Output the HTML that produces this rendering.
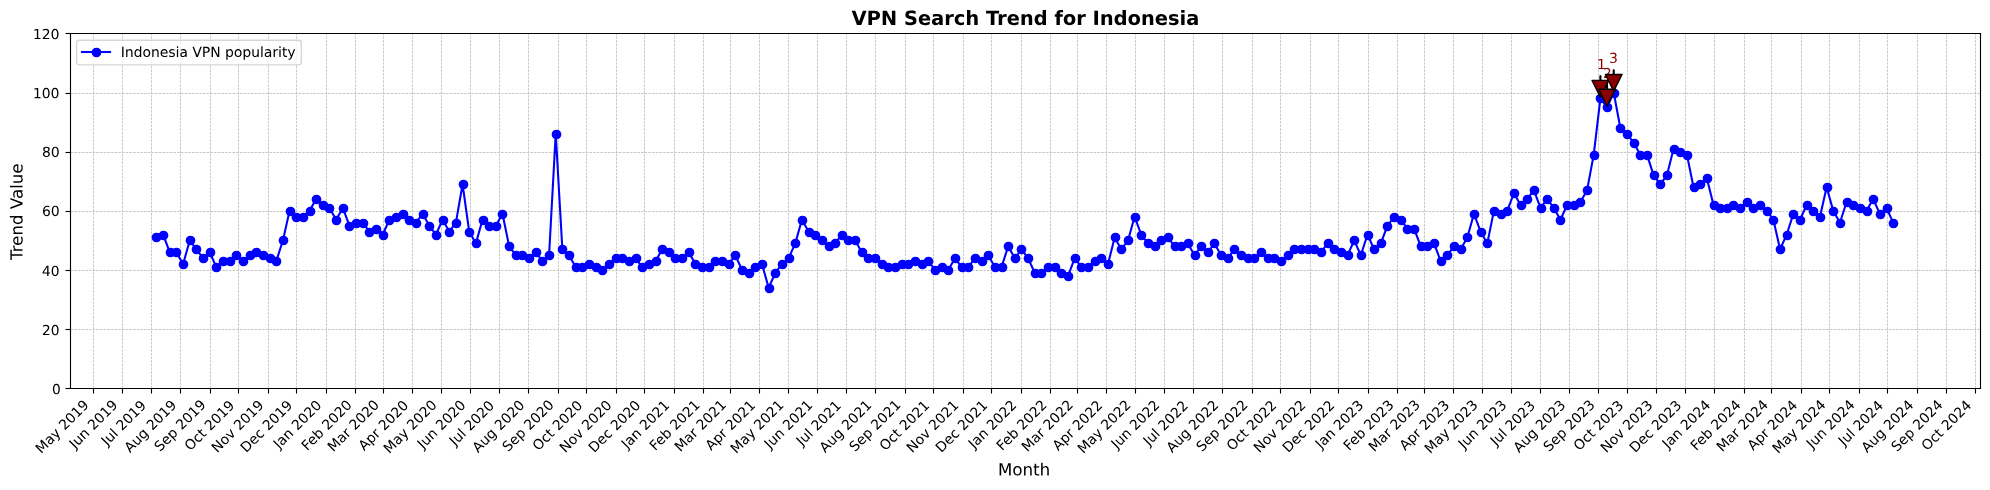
<!DOCTYPE html>
<html><head><meta charset="utf-8"><title>VPN Search Trend for Indonesia</title>
<style>html,body{margin:0;padding:0;background:#fff;font-family:"Liberation Sans",sans-serif}svg{display:block}</style>
</head><body>
<svg width="1990" height="490" viewBox="0 0 1432.8 352.8"><defs><style type="text/css">*{stroke-linejoin: round; stroke-linecap: butt}</style></defs><title>VPN Search Trend for Indonesia</title><desc>Line chart titled VPN Search Trend for Indonesia. X axis: Month (May 2019 to Oct 2024). Y axis: Trend Value (0 to 120). Legend: Indonesia VPN popularity. Annotated peaks 1, 2, 3 in September 2023.</desc><g id="figure_1"><g id="patch_1"><path d="M 0 352.8 L 1432.8 352.8 L 1432.8 0 L 0 0 z " style="fill: #ffffff"/></g><g id="axes_1"><g id="patch_2"><path d="M 50.15 279.637857 L 1425.6 279.637857 L 1425.6 24 L 50.15 24 z " style="fill: #ffffff"/></g><g id="matplotlib.axis_1"><g id="xtick_1"><g id="line2d_1"><path d="M 67.32 279.72 L 67.32 24.12 " clip-path="url(#p687c3cbe19)" style="fill: none; stroke-dasharray: 1.85,0.8; stroke-dashoffset: 0; stroke: #b0b0b0; stroke-width: 0.5"/></g><g id="line2d_2"><defs><path id="m1504cfccaf" d="M 0 0 L 0 3.6 " style="stroke: #000000; stroke-width: 0.8"/></defs><g><use href="#m1504cfccaf" x="67.32" y="279.72" style="stroke: #000000; stroke-width: 0.8"/></g></g><g id="text_1"><!-- May 2019 --><g transform="translate(29.6721 327.0533) rotate(-45) scale(0.1 -0.1)"><defs><path id="DejaVuSans-4d" d="M 628 4666 L 1569 4666 L 2759 1491 L 3956 4666 L 4897 4666 L 4897 0 L 4281 0 L 4281 4097 L 3078 897 L 2444 897 L 1241 4097 L 1241 0 L 628 0 L 628 4666 z " transform="scale(0.015625)"/><path id="DejaVuSans-61" d="M 2194 1759 Q 1497 1759 1228 1600 Q 959 1441 959 1056 Q 959 750 1161 570 Q 1363 391 1709 391 Q 2188 391 2477 730 Q 2766 1069 2766 1631 L 2766 1759 L 2194 1759 z M 3341 1997 L 3341 0 L 2766 0 L 2766 531 Q 2569 213 2275 61 Q 1981 -91 1556 -91 Q 1019 -91 701 211 Q 384 513 384 1019 Q 384 1609 779 1909 Q 1175 2209 1959 2209 L 2766 2209 L 2766 2266 Q 2766 2663 2505 2880 Q 2244 3097 1772 3097 Q 1472 3097 1187 3025 Q 903 2953 641 2809 L 641 3341 Q 956 3463 1253 3523 Q 1550 3584 1831 3584 Q 2591 3584 2966 3190 Q 3341 2797 3341 1997 z " transform="scale(0.015625)"/><path id="DejaVuSans-79" d="M 2059 -325 Q 1816 -950 1584 -1140 Q 1353 -1331 966 -1331 L 506 -1331 L 506 -850 L 844 -850 Q 1081 -850 1212 -737 Q 1344 -625 1503 -206 L 1606 56 L 191 3500 L 800 3500 L 1894 763 L 2988 3500 L 3597 3500 L 2059 -325 z " transform="scale(0.015625)"/><path id="DejaVuSans-20" transform="scale(0.015625)"/><path id="DejaVuSans-32" d="M 1228 531 L 3431 531 L 3431 0 L 469 0 L 469 531 Q 828 903 1448 1529 Q 2069 2156 2228 2338 Q 2531 2678 2651 2914 Q 2772 3150 2772 3378 Q 2772 3750 2511 3984 Q 2250 4219 1831 4219 Q 1534 4219 1204 4116 Q 875 4013 500 3803 L 500 4441 Q 881 4594 1212 4672 Q 1544 4750 1819 4750 Q 2544 4750 2975 4387 Q 3406 4025 3406 3419 Q 3406 3131 3298 2873 Q 3191 2616 2906 2266 Q 2828 2175 2409 1742 Q 1991 1309 1228 531 z " transform="scale(0.015625)"/><path id="DejaVuSans-30" d="M 2034 4250 Q 1547 4250 1301 3770 Q 1056 3291 1056 2328 Q 1056 1369 1301 889 Q 1547 409 2034 409 Q 2525 409 2770 889 Q 3016 1369 3016 2328 Q 3016 3291 2770 3770 Q 2525 4250 2034 4250 z M 2034 4750 Q 2819 4750 3233 4129 Q 3647 3509 3647 2328 Q 3647 1150 3233 529 Q 2819 -91 2034 -91 Q 1250 -91 836 529 Q 422 1150 422 2328 Q 422 3509 836 4129 Q 1250 4750 2034 4750 z " transform="scale(0.015625)"/><path id="DejaVuSans-31" d="M 794 531 L 1825 531 L 1825 4091 L 703 3866 L 703 4441 L 1819 4666 L 2450 4666 L 2450 531 L 3481 531 L 3481 0 L 794 0 L 794 531 z " transform="scale(0.015625)"/><path id="DejaVuSans-39" d="M 703 97 L 703 672 Q 941 559 1184 500 Q 1428 441 1663 441 Q 2288 441 2617 861 Q 2947 1281 2994 2138 Q 2813 1869 2534 1725 Q 2256 1581 1919 1581 Q 1219 1581 811 2004 Q 403 2428 403 3163 Q 403 3881 828 4315 Q 1253 4750 1959 4750 Q 2769 4750 3195 4129 Q 3622 3509 3622 2328 Q 3622 1225 3098 567 Q 2575 -91 1691 -91 Q 1453 -91 1209 -44 Q 966 3 703 97 z M 1959 2075 Q 2384 2075 2632 2365 Q 2881 2656 2881 3163 Q 2881 3666 2632 3958 Q 2384 4250 1959 4250 Q 1534 4250 1286 3958 Q 1038 3666 1038 3163 Q 1038 2656 1286 2365 Q 1534 2075 1959 2075 z " transform="scale(0.015625)"/></defs><use href="#DejaVuSans-4d"/><use href="#DejaVuSans-61" transform="translate(86.279297 0)"/><use href="#DejaVuSans-79" transform="translate(147.558594 0)"/><use href="#DejaVuSans-20" transform="translate(206.738281 0)"/><use href="#DejaVuSans-32" transform="translate(238.525391 0)"/><use href="#DejaVuSans-30" transform="translate(302.148438 0)"/><use href="#DejaVuSans-31" transform="translate(365.771484 0)"/><use href="#DejaVuSans-39" transform="translate(429.394531 0)"/></g></g></g><g id="xtick_2"><g id="line2d_3"><path d="M 88.2 279.72 L 88.2 24.12 " clip-path="url(#p687c3cbe19)" style="fill: none; stroke-dasharray: 1.85,0.8; stroke-dashoffset: 0; stroke: #b0b0b0; stroke-width: 0.5"/></g><g id="line2d_4"><g><use href="#m1504cfccaf" x="88.2" y="279.72" style="stroke: #000000; stroke-width: 0.8"/></g></g><g id="text_2"><!-- Jun 2019 --><g transform="translate(54.0096 323.4824) rotate(-45) scale(0.1 -0.1)"><defs><path id="DejaVuSans-4a" d="M 628 4666 L 1259 4666 L 1259 325 Q 1259 -519 939 -900 Q 619 -1281 -91 -1281 L -331 -1281 L -331 -750 L -134 -750 Q 284 -750 456 -515 Q 628 -281 628 325 L 628 4666 z " transform="scale(0.015625)"/><path id="DejaVuSans-75" d="M 544 1381 L 544 3500 L 1119 3500 L 1119 1403 Q 1119 906 1312 657 Q 1506 409 1894 409 Q 2359 409 2629 706 Q 2900 1003 2900 1516 L 2900 3500 L 3475 3500 L 3475 0 L 2900 0 L 2900 538 Q 2691 219 2414 64 Q 2138 -91 1772 -91 Q 1169 -91 856 284 Q 544 659 544 1381 z M 1991 3584 L 1991 3584 z " transform="scale(0.015625)"/><path id="DejaVuSans-6e" d="M 3513 2113 L 3513 0 L 2938 0 L 2938 2094 Q 2938 2591 2744 2837 Q 2550 3084 2163 3084 Q 1697 3084 1428 2787 Q 1159 2491 1159 1978 L 1159 0 L 581 0 L 581 3500 L 1159 3500 L 1159 2956 Q 1366 3272 1645 3428 Q 1925 3584 2291 3584 Q 2894 3584 3203 3211 Q 3513 2838 3513 2113 z " transform="scale(0.015625)"/></defs><use href="#DejaVuSans-4a"/><use href="#DejaVuSans-75" transform="translate(29.492188 0)"/><use href="#DejaVuSans-6e" transform="translate(92.871094 0)"/><use href="#DejaVuSans-20" transform="translate(156.25 0)"/><use href="#DejaVuSans-32" transform="translate(188.037109 0)"/><use href="#DejaVuSans-30" transform="translate(251.660156 0)"/><use href="#DejaVuSans-31" transform="translate(315.283203 0)"/><use href="#DejaVuSans-39" transform="translate(378.90625 0)"/></g></g></g><g id="xtick_3"><g id="line2d_5"><path d="M 109.08 279.72 L 109.08 24.12 " clip-path="url(#p687c3cbe19)" style="fill: none; stroke-dasharray: 1.85,0.8; stroke-dashoffset: 0; stroke: #b0b0b0; stroke-width: 0.5"/></g><g id="line2d_6"><g><use href="#m1504cfccaf" x="109.08" y="279.72" style="stroke: #000000; stroke-width: 0.8"/></g></g><g id="text_3"><!-- Jul 2019 --><g transform="translate(77.0586 321.3256) rotate(-45) scale(0.1 -0.1)"><defs><path id="DejaVuSans-6c" d="M 603 4863 L 1178 4863 L 1178 0 L 603 0 L 603 4863 z " transform="scale(0.015625)"/></defs><use href="#DejaVuSans-4a"/><use href="#DejaVuSans-75" transform="translate(29.492188 0)"/><use href="#DejaVuSans-6c" transform="translate(92.871094 0)"/><use href="#DejaVuSans-20" transform="translate(120.654297 0)"/><use href="#DejaVuSans-32" transform="translate(152.441406 0)"/><use href="#DejaVuSans-30" transform="translate(216.064453 0)"/><use href="#DejaVuSans-31" transform="translate(279.6875 0)"/><use href="#DejaVuSans-39" transform="translate(343.310547 0)"/></g></g></g><g id="xtick_4"><g id="line2d_7"><path d="M 129.96 279.72 L 129.96 24.12 " clip-path="url(#p687c3cbe19)" style="fill: none; stroke-dasharray: 1.85,0.8; stroke-dashoffset: 0; stroke: #b0b0b0; stroke-width: 0.5"/></g><g id="line2d_8"><g><use href="#m1504cfccaf" x="129.96" y="279.72" style="stroke: #000000; stroke-width: 0.8"/></g></g><g id="text_4"><!-- Aug 2019 --><g transform="translate(93.6295 326.3313) rotate(-45) scale(0.1 -0.1)"><defs><path id="DejaVuSans-41" d="M 2188 4044 L 1331 1722 L 3047 1722 L 2188 4044 z M 1831 4666 L 2547 4666 L 4325 0 L 3669 0 L 3244 1197 L 1141 1197 L 716 0 L 50 0 L 1831 4666 z " transform="scale(0.015625)"/><path id="DejaVuSans-67" d="M 2906 1791 Q 2906 2416 2648 2759 Q 2391 3103 1925 3103 Q 1463 3103 1205 2759 Q 947 2416 947 1791 Q 947 1169 1205 825 Q 1463 481 1925 481 Q 2391 481 2648 825 Q 2906 1169 2906 1791 z M 3481 434 Q 3481 -459 3084 -895 Q 2688 -1331 1869 -1331 Q 1566 -1331 1297 -1286 Q 1028 -1241 775 -1147 L 775 -588 Q 1028 -725 1275 -790 Q 1522 -856 1778 -856 Q 2344 -856 2625 -561 Q 2906 -266 2906 331 L 2906 616 Q 2728 306 2450 153 Q 2172 0 1784 0 Q 1141 0 747 490 Q 353 981 353 1791 Q 353 2603 747 3093 Q 1141 3584 1784 3584 Q 2172 3584 2450 3431 Q 2728 3278 2906 2969 L 2906 3500 L 3481 3500 L 3481 434 z " transform="scale(0.015625)"/></defs><use href="#DejaVuSans-41"/><use href="#DejaVuSans-75" transform="translate(68.408203 0)"/><use href="#DejaVuSans-67" transform="translate(131.787109 0)"/><use href="#DejaVuSans-20" transform="translate(195.263672 0)"/><use href="#DejaVuSans-32" transform="translate(227.050781 0)"/><use href="#DejaVuSans-30" transform="translate(290.673828 0)"/><use href="#DejaVuSans-31" transform="translate(354.296875 0)"/><use href="#DejaVuSans-39" transform="translate(417.919922 0)"/></g></g></g><g id="xtick_5"><g id="line2d_9"><path d="M 151.56 279.72 L 151.56 24.12 " clip-path="url(#p687c3cbe19)" style="fill: none; stroke-dasharray: 1.85,0.8; stroke-dashoffset: 0; stroke: #b0b0b0; stroke-width: 0.5"/></g><g id="line2d_10"><g><use href="#m1504cfccaf" x="151.56" y="279.72" style="stroke: #000000; stroke-width: 0.8"/></g></g><g id="text_5"><!-- Sep 2019 --><g transform="translate(115.2345 325.5829) rotate(-45) scale(0.1 -0.1)"><defs><path id="DejaVuSans-53" d="M 3425 4513 L 3425 3897 Q 3066 4069 2747 4153 Q 2428 4238 2131 4238 Q 1616 4238 1336 4038 Q 1056 3838 1056 3469 Q 1056 3159 1242 3001 Q 1428 2844 1947 2747 L 2328 2669 Q 3034 2534 3370 2195 Q 3706 1856 3706 1288 Q 3706 609 3251 259 Q 2797 -91 1919 -91 Q 1588 -91 1214 -16 Q 841 59 441 206 L 441 856 Q 825 641 1194 531 Q 1563 422 1919 422 Q 2459 422 2753 634 Q 3047 847 3047 1241 Q 3047 1584 2836 1778 Q 2625 1972 2144 2069 L 1759 2144 Q 1053 2284 737 2584 Q 422 2884 422 3419 Q 422 4038 858 4394 Q 1294 4750 2059 4750 Q 2388 4750 2728 4690 Q 3069 4631 3425 4513 z " transform="scale(0.015625)"/><path id="DejaVuSans-65" d="M 3597 1894 L 3597 1613 L 953 1613 Q 991 1019 1311 708 Q 1631 397 2203 397 Q 2534 397 2845 478 Q 3156 559 3463 722 L 3463 178 Q 3153 47 2828 -22 Q 2503 -91 2169 -91 Q 1331 -91 842 396 Q 353 884 353 1716 Q 353 2575 817 3079 Q 1281 3584 2069 3584 Q 2775 3584 3186 3129 Q 3597 2675 3597 1894 z M 3022 2063 Q 3016 2534 2758 2815 Q 2500 3097 2075 3097 Q 1594 3097 1305 2825 Q 1016 2553 972 2059 L 3022 2063 z " transform="scale(0.015625)"/><path id="DejaVuSans-70" d="M 1159 525 L 1159 -1331 L 581 -1331 L 581 3500 L 1159 3500 L 1159 2969 Q 1341 3281 1617 3432 Q 1894 3584 2278 3584 Q 2916 3584 3314 3078 Q 3713 2572 3713 1747 Q 3713 922 3314 415 Q 2916 -91 2278 -91 Q 1894 -91 1617 61 Q 1341 213 1159 525 z M 3116 1747 Q 3116 2381 2855 2742 Q 2594 3103 2138 3103 Q 1681 3103 1420 2742 Q 1159 2381 1159 1747 Q 1159 1113 1420 752 Q 1681 391 2138 391 Q 2594 391 2855 752 Q 3116 1113 3116 1747 z " transform="scale(0.015625)"/></defs><use href="#DejaVuSans-53"/><use href="#DejaVuSans-65" transform="translate(63.476562 0)"/><use href="#DejaVuSans-70" transform="translate(125 0)"/><use href="#DejaVuSans-20" transform="translate(188.476562 0)"/><use href="#DejaVuSans-32" transform="translate(220.263672 0)"/><use href="#DejaVuSans-30" transform="translate(283.886719 0)"/><use href="#DejaVuSans-31" transform="translate(347.509766 0)"/><use href="#DejaVuSans-39" transform="translate(411.132812 0)"/></g></g></g><g id="xtick_6"><g id="line2d_11"><path d="M 171.72 279.72 L 171.72 24.12 " clip-path="url(#p687c3cbe19)" style="fill: none; stroke-dasharray: 1.85,0.8; stroke-dashoffset: 0; stroke: #b0b0b0; stroke-width: 0.5"/></g><g id="line2d_12"><g><use href="#m1504cfccaf" x="171.72" y="279.72" style="stroke: #000000; stroke-width: 0.8"/></g></g><g id="text_6"><!-- Oct 2019 --><g transform="translate(136.9593 325.0202) rotate(-45) scale(0.1 -0.1)"><defs><path id="DejaVuSans-4f" d="M 2522 4238 Q 1834 4238 1429 3725 Q 1025 3213 1025 2328 Q 1025 1447 1429 934 Q 1834 422 2522 422 Q 3209 422 3611 934 Q 4013 1447 4013 2328 Q 4013 3213 3611 3725 Q 3209 4238 2522 4238 z M 2522 4750 Q 3503 4750 4090 4092 Q 4678 3434 4678 2328 Q 4678 1225 4090 567 Q 3503 -91 2522 -91 Q 1538 -91 948 565 Q 359 1222 359 2328 Q 359 3434 948 4092 Q 1538 4750 2522 4750 z " transform="scale(0.015625)"/><path id="DejaVuSans-63" d="M 3122 3366 L 3122 2828 Q 2878 2963 2633 3030 Q 2388 3097 2138 3097 Q 1578 3097 1268 2742 Q 959 2388 959 1747 Q 959 1106 1268 751 Q 1578 397 2138 397 Q 2388 397 2633 464 Q 2878 531 3122 666 L 3122 134 Q 2881 22 2623 -34 Q 2366 -91 2075 -91 Q 1284 -91 818 406 Q 353 903 353 1747 Q 353 2603 823 3093 Q 1294 3584 2113 3584 Q 2378 3584 2631 3529 Q 2884 3475 3122 3366 z " transform="scale(0.015625)"/><path id="DejaVuSans-74" d="M 1172 4494 L 1172 3500 L 2356 3500 L 2356 3053 L 1172 3053 L 1172 1153 Q 1172 725 1289 603 Q 1406 481 1766 481 L 2356 481 L 2356 0 L 1766 0 Q 1100 0 847 248 Q 594 497 594 1153 L 594 3053 L 172 3053 L 172 3500 L 594 3500 L 594 4494 L 1172 4494 z " transform="scale(0.015625)"/></defs><use href="#DejaVuSans-4f"/><use href="#DejaVuSans-63" transform="translate(78.710938 0)"/><use href="#DejaVuSans-74" transform="translate(133.691406 0)"/><use href="#DejaVuSans-20" transform="translate(172.900391 0)"/><use href="#DejaVuSans-32" transform="translate(204.6875 0)"/><use href="#DejaVuSans-30" transform="translate(268.310547 0)"/><use href="#DejaVuSans-31" transform="translate(331.933594 0)"/><use href="#DejaVuSans-39" transform="translate(395.556641 0)"/></g></g></g><g id="xtick_7"><g id="line2d_13"><path d="M 193.32 279.72 L 193.32 24.12 " clip-path="url(#p687c3cbe19)" style="fill: none; stroke-dasharray: 1.85,0.8; stroke-dashoffset: 0; stroke: #b0b0b0; stroke-width: 0.5"/></g><g id="line2d_14"><g><use href="#m1504cfccaf" x="193.32" y="279.72" style="stroke: #000000; stroke-width: 0.8"/></g></g><g id="text_7"><!-- Nov 2019 --><g transform="translate(156.4204 326.4157) rotate(-45) scale(0.1 -0.1)"><defs><path id="DejaVuSans-4e" d="M 628 4666 L 1478 4666 L 3547 763 L 3547 4666 L 4159 4666 L 4159 0 L 3309 0 L 1241 3903 L 1241 0 L 628 0 L 628 4666 z " transform="scale(0.015625)"/><path id="DejaVuSans-6f" d="M 1959 3097 Q 1497 3097 1228 2736 Q 959 2375 959 1747 Q 959 1119 1226 758 Q 1494 397 1959 397 Q 2419 397 2687 759 Q 2956 1122 2956 1747 Q 2956 2369 2687 2733 Q 2419 3097 1959 3097 z M 1959 3584 Q 2709 3584 3137 3096 Q 3566 2609 3566 1747 Q 3566 888 3137 398 Q 2709 -91 1959 -91 Q 1206 -91 779 398 Q 353 888 353 1747 Q 353 2609 779 3096 Q 1206 3584 1959 3584 z " transform="scale(0.015625)"/><path id="DejaVuSans-76" d="M 191 3500 L 800 3500 L 1894 563 L 2988 3500 L 3597 3500 L 2284 0 L 1503 0 L 191 3500 z " transform="scale(0.015625)"/></defs><use href="#DejaVuSans-4e"/><use href="#DejaVuSans-6f" transform="translate(74.804688 0)"/><use href="#DejaVuSans-76" transform="translate(135.986328 0)"/><use href="#DejaVuSans-20" transform="translate(195.166016 0)"/><use href="#DejaVuSans-32" transform="translate(226.953125 0)"/><use href="#DejaVuSans-30" transform="translate(290.576172 0)"/><use href="#DejaVuSans-31" transform="translate(354.199219 0)"/><use href="#DejaVuSans-39" transform="translate(417.822266 0)"/></g></g></g><g id="xtick_8"><g id="line2d_15"><path d="M 213.48 279.72 L 213.48 24.12 " clip-path="url(#p687c3cbe19)" style="fill: none; stroke-dasharray: 1.85,0.8; stroke-dashoffset: 0; stroke: #b0b0b0; stroke-width: 0.5"/></g><g id="line2d_16"><g><use href="#m1504cfccaf" x="213.48" y="279.72" style="stroke: #000000; stroke-width: 0.8"/></g></g><g id="text_8"><!-- Dec 2019 --><g transform="translate(177.2508 326.3875) rotate(-45) scale(0.1 -0.1)"><defs><path id="DejaVuSans-44" d="M 1259 4147 L 1259 519 L 2022 519 Q 2988 519 3436 956 Q 3884 1394 3884 2338 Q 3884 3275 3436 3711 Q 2988 4147 2022 4147 L 1259 4147 z M 628 4666 L 1925 4666 Q 3281 4666 3915 4102 Q 4550 3538 4550 2338 Q 4550 1131 3912 565 Q 3275 0 1925 0 L 628 0 L 628 4666 z " transform="scale(0.015625)"/></defs><use href="#DejaVuSans-44"/><use href="#DejaVuSans-65" transform="translate(77.001953 0)"/><use href="#DejaVuSans-63" transform="translate(138.525391 0)"/><use href="#DejaVuSans-20" transform="translate(193.505859 0)"/><use href="#DejaVuSans-32" transform="translate(225.292969 0)"/><use href="#DejaVuSans-30" transform="translate(288.916016 0)"/><use href="#DejaVuSans-31" transform="translate(352.539062 0)"/><use href="#DejaVuSans-39" transform="translate(416.162109 0)"/></g></g></g><g id="xtick_9"><g id="line2d_17"><path d="M 235.08 279.72 L 235.08 24.12 " clip-path="url(#p687c3cbe19)" style="fill: none; stroke-dasharray: 1.85,0.8; stroke-dashoffset: 0; stroke: #b0b0b0; stroke-width: 0.5"/></g><g id="line2d_18"><g><use href="#m1504cfccaf" x="235.08" y="279.72" style="stroke: #000000; stroke-width: 0.8"/></g></g><g id="text_9"><!-- Jan 2020 --><g transform="translate(200.9805 323.5144) rotate(-45) scale(0.1 -0.1)"><use href="#DejaVuSans-4a"/><use href="#DejaVuSans-61" transform="translate(29.492188 0)"/><use href="#DejaVuSans-6e" transform="translate(90.771484 0)"/><use href="#DejaVuSans-20" transform="translate(154.150391 0)"/><use href="#DejaVuSans-32" transform="translate(185.9375 0)"/><use href="#DejaVuSans-30" transform="translate(249.560547 0)"/><use href="#DejaVuSans-32" transform="translate(313.183594 0)"/><use href="#DejaVuSans-30" transform="translate(376.806641 0)"/></g></g></g><g id="xtick_10"><g id="line2d_19"><path d="M 255.96 279.72 L 255.96 24.12 " clip-path="url(#p687c3cbe19)" style="fill: none; stroke-dasharray: 1.85,0.8; stroke-dashoffset: 0; stroke: #b0b0b0; stroke-width: 0.5"/></g><g id="line2d_20"><g><use href="#m1504cfccaf" x="255.96" y="279.72" style="stroke: #000000; stroke-width: 0.8"/></g></g><g id="text_10"><!-- Feb 2020 --><g transform="translate(221.2095 324.9519) rotate(-45) scale(0.1 -0.1)"><defs><path id="DejaVuSans-46" d="M 628 4666 L 3309 4666 L 3309 4134 L 1259 4134 L 1259 2759 L 3109 2759 L 3109 2228 L 1259 2228 L 1259 0 L 628 0 L 628 4666 z " transform="scale(0.015625)"/><path id="DejaVuSans-62" d="M 3116 1747 Q 3116 2381 2855 2742 Q 2594 3103 2138 3103 Q 1681 3103 1420 2742 Q 1159 2381 1159 1747 Q 1159 1113 1420 752 Q 1681 391 2138 391 Q 2594 391 2855 752 Q 3116 1113 3116 1747 z M 1159 2969 Q 1341 3281 1617 3432 Q 1894 3584 2278 3584 Q 2916 3584 3314 3078 Q 3713 2572 3713 1747 Q 3713 922 3314 415 Q 2916 -91 2278 -91 Q 1894 -91 1617 61 Q 1341 213 1159 525 L 1159 0 L 581 0 L 581 4863 L 1159 4863 L 1159 2969 z " transform="scale(0.015625)"/></defs><use href="#DejaVuSans-46"/><use href="#DejaVuSans-65" transform="translate(52.019531 0)"/><use href="#DejaVuSans-62" transform="translate(113.542969 0)"/><use href="#DejaVuSans-20" transform="translate(177.019531 0)"/><use href="#DejaVuSans-32" transform="translate(208.806641 0)"/><use href="#DejaVuSans-30" transform="translate(272.429688 0)"/><use href="#DejaVuSans-32" transform="translate(336.052734 0)"/><use href="#DejaVuSans-30" transform="translate(399.675781 0)"/></g></g></g><g id="xtick_11"><g id="line2d_21"><path d="M 276.12 279.72 L 276.12 24.12 " clip-path="url(#p687c3cbe19)" style="fill: none; stroke-dasharray: 1.85,0.8; stroke-dashoffset: 0; stroke: #b0b0b0; stroke-width: 0.5"/></g><g id="line2d_22"><g><use href="#m1504cfccaf" x="276.12" y="279.72" style="stroke: #000000; stroke-width: 0.8"/></g></g><g id="text_11"><!-- Mar 2020 --><g transform="translate(239.9642 325.685) rotate(-45) scale(0.1 -0.1)"><defs><path id="DejaVuSans-72" d="M 2631 2963 Q 2534 3019 2420 3045 Q 2306 3072 2169 3072 Q 1681 3072 1420 2755 Q 1159 2438 1159 1844 L 1159 0 L 581 0 L 581 3500 L 1159 3500 L 1159 2956 Q 1341 3275 1631 3429 Q 1922 3584 2338 3584 Q 2397 3584 2469 3576 Q 2541 3569 2628 3553 L 2631 2963 z " transform="scale(0.015625)"/></defs><use href="#DejaVuSans-4d"/><use href="#DejaVuSans-61" transform="translate(86.279297 0)"/><use href="#DejaVuSans-72" transform="translate(147.558594 0)"/><use href="#DejaVuSans-20" transform="translate(188.671875 0)"/><use href="#DejaVuSans-32" transform="translate(220.458984 0)"/><use href="#DejaVuSans-30" transform="translate(284.082031 0)"/><use href="#DejaVuSans-32" transform="translate(347.705078 0)"/><use href="#DejaVuSans-30" transform="translate(411.328125 0)"/></g></g></g><g id="xtick_12"><g id="line2d_23"><path d="M 297 279.72 L 297 24.12 " clip-path="url(#p687c3cbe19)" style="fill: none; stroke-dasharray: 1.85,0.8; stroke-dashoffset: 0; stroke: #b0b0b0; stroke-width: 0.5"/></g><g id="line2d_24"><g><use href="#m1504cfccaf" x="297" y="279.72" style="stroke: #000000; stroke-width: 0.8"/></g></g><g id="text_12"><!-- Apr 2020 --><g transform="translate(262.1989 324.9369) rotate(-45) scale(0.1 -0.1)"><use href="#DejaVuSans-41"/><use href="#DejaVuSans-70" transform="translate(68.408203 0)"/><use href="#DejaVuSans-72" transform="translate(131.884766 0)"/><use href="#DejaVuSans-20" transform="translate(172.998047 0)"/><use href="#DejaVuSans-32" transform="translate(204.785156 0)"/><use href="#DejaVuSans-30" transform="translate(268.408203 0)"/><use href="#DejaVuSans-32" transform="translate(332.03125 0)"/><use href="#DejaVuSans-30" transform="translate(395.654297 0)"/></g></g></g><g id="xtick_13"><g id="line2d_25"><path d="M 317.88 279.72 L 317.88 24.12 " clip-path="url(#p687c3cbe19)" style="fill: none; stroke-dasharray: 1.85,0.8; stroke-dashoffset: 0; stroke: #b0b0b0; stroke-width: 0.5"/></g><g id="line2d_26"><g><use href="#m1504cfccaf" x="317.88" y="279.72" style="stroke: #000000; stroke-width: 0.8"/></g></g><g id="text_13"><!-- May 2020 --><g transform="translate(280.2546 327.0533) rotate(-45) scale(0.1 -0.1)"><use href="#DejaVuSans-4d"/><use href="#DejaVuSans-61" transform="translate(86.279297 0)"/><use href="#DejaVuSans-79" transform="translate(147.558594 0)"/><use href="#DejaVuSans-20" transform="translate(206.738281 0)"/><use href="#DejaVuSans-32" transform="translate(238.525391 0)"/><use href="#DejaVuSans-30" transform="translate(302.148438 0)"/><use href="#DejaVuSans-32" transform="translate(365.771484 0)"/><use href="#DejaVuSans-30" transform="translate(429.394531 0)"/></g></g></g><g id="xtick_14"><g id="line2d_27"><path d="M 338.76 279.72 L 338.76 24.12 " clip-path="url(#p687c3cbe19)" style="fill: none; stroke-dasharray: 1.85,0.8; stroke-dashoffset: 0; stroke: #b0b0b0; stroke-width: 0.5"/></g><g id="line2d_28"><g><use href="#m1504cfccaf" x="338.76" y="279.72" style="stroke: #000000; stroke-width: 0.8"/></g></g><g id="text_14"><!-- Jun 2020 --><g transform="translate(304.5921 323.5724) rotate(-45) scale(0.1 -0.1)"><use href="#DejaVuSans-4a"/><use href="#DejaVuSans-75" transform="translate(29.492188 0)"/><use href="#DejaVuSans-6e" transform="translate(92.871094 0)"/><use href="#DejaVuSans-20" transform="translate(156.25 0)"/><use href="#DejaVuSans-32" transform="translate(188.037109 0)"/><use href="#DejaVuSans-30" transform="translate(251.660156 0)"/><use href="#DejaVuSans-32" transform="translate(315.283203 0)"/><use href="#DejaVuSans-30" transform="translate(378.90625 0)"/></g></g></g><g id="xtick_15"><g id="line2d_29"><path d="M 359.64 279.72 L 359.64 24.12 " clip-path="url(#p687c3cbe19)" style="fill: none; stroke-dasharray: 1.85,0.8; stroke-dashoffset: 0; stroke: #b0b0b0; stroke-width: 0.5"/></g><g id="line2d_30"><g><use href="#m1504cfccaf" x="359.64" y="279.72" style="stroke: #000000; stroke-width: 0.8"/></g></g><g id="text_15"><!-- Jul 2020 --><g transform="translate(327.6411 321.4156) rotate(-45) scale(0.1 -0.1)"><use href="#DejaVuSans-4a"/><use href="#DejaVuSans-75" transform="translate(29.492188 0)"/><use href="#DejaVuSans-6c" transform="translate(92.871094 0)"/><use href="#DejaVuSans-20" transform="translate(120.654297 0)"/><use href="#DejaVuSans-32" transform="translate(152.441406 0)"/><use href="#DejaVuSans-30" transform="translate(216.064453 0)"/><use href="#DejaVuSans-32" transform="translate(279.6875 0)"/><use href="#DejaVuSans-30" transform="translate(343.310547 0)"/></g></g></g><g id="xtick_16"><g id="line2d_31"><path d="M 380.52 279.72 L 380.52 24.12 " clip-path="url(#p687c3cbe19)" style="fill: none; stroke-dasharray: 1.85,0.8; stroke-dashoffset: 0; stroke: #b0b0b0; stroke-width: 0.5"/></g><g id="line2d_32"><g><use href="#m1504cfccaf" x="380.52" y="279.72" style="stroke: #000000; stroke-width: 0.8"/></g></g><g id="text_16"><!-- Aug 2020 --><g transform="translate(344.212 326.3313) rotate(-45) scale(0.1 -0.1)"><use href="#DejaVuSans-41"/><use href="#DejaVuSans-75" transform="translate(68.408203 0)"/><use href="#DejaVuSans-67" transform="translate(131.787109 0)"/><use href="#DejaVuSans-20" transform="translate(195.263672 0)"/><use href="#DejaVuSans-32" transform="translate(227.050781 0)"/><use href="#DejaVuSans-30" transform="translate(290.673828 0)"/><use href="#DejaVuSans-32" transform="translate(354.296875 0)"/><use href="#DejaVuSans-30" transform="translate(417.919922 0)"/></g></g></g><g id="xtick_17"><g id="line2d_33"><path d="M 402.12 279.72 L 402.12 24.12 " clip-path="url(#p687c3cbe19)" style="fill: none; stroke-dasharray: 1.85,0.8; stroke-dashoffset: 0; stroke: #b0b0b0; stroke-width: 0.5"/></g><g id="line2d_34"><g><use href="#m1504cfccaf" x="402.12" y="279.72" style="stroke: #000000; stroke-width: 0.8"/></g></g><g id="text_17"><!-- Sep 2020 --><g transform="translate(365.817 325.6729) rotate(-45) scale(0.1 -0.1)"><use href="#DejaVuSans-53"/><use href="#DejaVuSans-65" transform="translate(63.476562 0)"/><use href="#DejaVuSans-70" transform="translate(125 0)"/><use href="#DejaVuSans-20" transform="translate(188.476562 0)"/><use href="#DejaVuSans-32" transform="translate(220.263672 0)"/><use href="#DejaVuSans-30" transform="translate(283.886719 0)"/><use href="#DejaVuSans-32" transform="translate(347.509766 0)"/><use href="#DejaVuSans-30" transform="translate(411.132812 0)"/></g></g></g><g id="xtick_18"><g id="line2d_35"><path d="M 422.28 279.72 L 422.28 24.12 " clip-path="url(#p687c3cbe19)" style="fill: none; stroke-dasharray: 1.85,0.8; stroke-dashoffset: 0; stroke: #b0b0b0; stroke-width: 0.5"/></g><g id="line2d_36"><g><use href="#m1504cfccaf" x="422.28" y="279.72" style="stroke: #000000; stroke-width: 0.8"/></g></g><g id="text_18"><!-- Oct 2020 --><g transform="translate(387.5418 325.0202) rotate(-45) scale(0.1 -0.1)"><use href="#DejaVuSans-4f"/><use href="#DejaVuSans-63" transform="translate(78.710938 0)"/><use href="#DejaVuSans-74" transform="translate(133.691406 0)"/><use href="#DejaVuSans-20" transform="translate(172.900391 0)"/><use href="#DejaVuSans-32" transform="translate(204.6875 0)"/><use href="#DejaVuSans-30" transform="translate(268.310547 0)"/><use href="#DejaVuSans-32" transform="translate(331.933594 0)"/><use href="#DejaVuSans-30" transform="translate(395.556641 0)"/></g></g></g><g id="xtick_19"><g id="line2d_37"><path d="M 443.88 279.72 L 443.88 24.12 " clip-path="url(#p687c3cbe19)" style="fill: none; stroke-dasharray: 1.85,0.8; stroke-dashoffset: 0; stroke: #b0b0b0; stroke-width: 0.5"/></g><g id="line2d_38"><g><use href="#m1504cfccaf" x="443.88" y="279.72" style="stroke: #000000; stroke-width: 0.8"/></g></g><g id="text_19"><!-- Nov 2020 --><g transform="translate(407.0028 326.4157) rotate(-45) scale(0.1 -0.1)"><use href="#DejaVuSans-4e"/><use href="#DejaVuSans-6f" transform="translate(74.804688 0)"/><use href="#DejaVuSans-76" transform="translate(135.986328 0)"/><use href="#DejaVuSans-20" transform="translate(195.166016 0)"/><use href="#DejaVuSans-32" transform="translate(226.953125 0)"/><use href="#DejaVuSans-30" transform="translate(290.576172 0)"/><use href="#DejaVuSans-32" transform="translate(354.199219 0)"/><use href="#DejaVuSans-30" transform="translate(417.822266 0)"/></g></g></g><g id="xtick_20"><g id="line2d_39"><path d="M 464.04 279.72 L 464.04 24.12 " clip-path="url(#p687c3cbe19)" style="fill: none; stroke-dasharray: 1.85,0.8; stroke-dashoffset: 0; stroke: #b0b0b0; stroke-width: 0.5"/></g><g id="line2d_40"><g><use href="#m1504cfccaf" x="464.04" y="279.72" style="stroke: #000000; stroke-width: 0.8"/></g></g><g id="text_20"><!-- Dec 2020 --><g transform="translate(427.8332 326.3875) rotate(-45) scale(0.1 -0.1)"><use href="#DejaVuSans-44"/><use href="#DejaVuSans-65" transform="translate(77.001953 0)"/><use href="#DejaVuSans-63" transform="translate(138.525391 0)"/><use href="#DejaVuSans-20" transform="translate(193.505859 0)"/><use href="#DejaVuSans-32" transform="translate(225.292969 0)"/><use href="#DejaVuSans-30" transform="translate(288.916016 0)"/><use href="#DejaVuSans-32" transform="translate(352.539062 0)"/><use href="#DejaVuSans-30" transform="translate(416.162109 0)"/></g></g></g><g id="xtick_21"><g id="line2d_41"><path d="M 485.64 279.72 L 485.64 24.12 " clip-path="url(#p687c3cbe19)" style="fill: none; stroke-dasharray: 1.85,0.8; stroke-dashoffset: 0; stroke: #b0b0b0; stroke-width: 0.5"/></g><g id="line2d_42"><g><use href="#m1504cfccaf" x="485.64" y="279.72" style="stroke: #000000; stroke-width: 0.8"/></g></g><g id="text_21"><!-- Jan 2021 --><g transform="translate(451.5629 323.5144) rotate(-45) scale(0.1 -0.1)"><use href="#DejaVuSans-4a"/><use href="#DejaVuSans-61" transform="translate(29.492188 0)"/><use href="#DejaVuSans-6e" transform="translate(90.771484 0)"/><use href="#DejaVuSans-20" transform="translate(154.150391 0)"/><use href="#DejaVuSans-32" transform="translate(185.9375 0)"/><use href="#DejaVuSans-30" transform="translate(249.560547 0)"/><use href="#DejaVuSans-32" transform="translate(313.183594 0)"/><use href="#DejaVuSans-31" transform="translate(376.806641 0)"/></g></g></g><g id="xtick_22"><g id="line2d_43"><path d="M 506.52 279.72 L 506.52 24.12 " clip-path="url(#p687c3cbe19)" style="fill: none; stroke-dasharray: 1.85,0.8; stroke-dashoffset: 0; stroke: #b0b0b0; stroke-width: 0.5"/></g><g id="line2d_44"><g><use href="#m1504cfccaf" x="506.52" y="279.72" style="stroke: #000000; stroke-width: 0.8"/></g></g><g id="text_22"><!-- Feb 2021 --><g transform="translate(471.792 324.9519) rotate(-45) scale(0.1 -0.1)"><use href="#DejaVuSans-46"/><use href="#DejaVuSans-65" transform="translate(52.019531 0)"/><use href="#DejaVuSans-62" transform="translate(113.542969 0)"/><use href="#DejaVuSans-20" transform="translate(177.019531 0)"/><use href="#DejaVuSans-32" transform="translate(208.806641 0)"/><use href="#DejaVuSans-30" transform="translate(272.429688 0)"/><use href="#DejaVuSans-32" transform="translate(336.052734 0)"/><use href="#DejaVuSans-31" transform="translate(399.675781 0)"/></g></g></g><g id="xtick_23"><g id="line2d_45"><path d="M 525.96 279.72 L 525.96 24.12 " clip-path="url(#p687c3cbe19)" style="fill: none; stroke-dasharray: 1.85,0.8; stroke-dashoffset: 0; stroke: #b0b0b0; stroke-width: 0.5"/></g><g id="line2d_46"><g><use href="#m1504cfccaf" x="525.96" y="279.72" style="stroke: #000000; stroke-width: 0.8"/></g></g><g id="text_23"><!-- Mar 2021 --><g transform="translate(489.8622 325.685) rotate(-45) scale(0.1 -0.1)"><use href="#DejaVuSans-4d"/><use href="#DejaVuSans-61" transform="translate(86.279297 0)"/><use href="#DejaVuSans-72" transform="translate(147.558594 0)"/><use href="#DejaVuSans-20" transform="translate(188.671875 0)"/><use href="#DejaVuSans-32" transform="translate(220.458984 0)"/><use href="#DejaVuSans-30" transform="translate(284.082031 0)"/><use href="#DejaVuSans-32" transform="translate(347.705078 0)"/><use href="#DejaVuSans-31" transform="translate(411.328125 0)"/></g></g></g><g id="xtick_24"><g id="line2d_47"><path d="M 546.84 279.72 L 546.84 24.12 " clip-path="url(#p687c3cbe19)" style="fill: none; stroke-dasharray: 1.85,0.8; stroke-dashoffset: 0; stroke: #b0b0b0; stroke-width: 0.5"/></g><g id="line2d_48"><g><use href="#m1504cfccaf" x="546.84" y="279.72" style="stroke: #000000; stroke-width: 0.8"/></g></g><g id="text_24"><!-- Apr 2021 --><g transform="translate(512.007 324.8469) rotate(-45) scale(0.1 -0.1)"><use href="#DejaVuSans-41"/><use href="#DejaVuSans-70" transform="translate(68.408203 0)"/><use href="#DejaVuSans-72" transform="translate(131.884766 0)"/><use href="#DejaVuSans-20" transform="translate(172.998047 0)"/><use href="#DejaVuSans-32" transform="translate(204.785156 0)"/><use href="#DejaVuSans-30" transform="translate(268.408203 0)"/><use href="#DejaVuSans-32" transform="translate(332.03125 0)"/><use href="#DejaVuSans-31" transform="translate(395.654297 0)"/></g></g></g><g id="xtick_25"><g id="line2d_49"><path d="M 567.72 279.72 L 567.72 24.12 " clip-path="url(#p687c3cbe19)" style="fill: none; stroke-dasharray: 1.85,0.8; stroke-dashoffset: 0; stroke: #b0b0b0; stroke-width: 0.5"/></g><g id="line2d_50"><g><use href="#m1504cfccaf" x="567.72" y="279.72" style="stroke: #000000; stroke-width: 0.8"/></g></g><g id="text_25"><!-- May 2021 --><g transform="translate(530.0627 327.0533) rotate(-45) scale(0.1 -0.1)"><use href="#DejaVuSans-4d"/><use href="#DejaVuSans-61" transform="translate(86.279297 0)"/><use href="#DejaVuSans-79" transform="translate(147.558594 0)"/><use href="#DejaVuSans-20" transform="translate(206.738281 0)"/><use href="#DejaVuSans-32" transform="translate(238.525391 0)"/><use href="#DejaVuSans-30" transform="translate(302.148438 0)"/><use href="#DejaVuSans-32" transform="translate(365.771484 0)"/><use href="#DejaVuSans-31" transform="translate(429.394531 0)"/></g></g></g><g id="xtick_26"><g id="line2d_51"><path d="M 588.6 279.72 L 588.6 24.12 " clip-path="url(#p687c3cbe19)" style="fill: none; stroke-dasharray: 1.85,0.8; stroke-dashoffset: 0; stroke: #b0b0b0; stroke-width: 0.5"/></g><g id="line2d_52"><g><use href="#m1504cfccaf" x="588.6" y="279.72" style="stroke: #000000; stroke-width: 0.8"/></g></g><g id="text_26"><!-- Jun 2021 --><g transform="translate(554.4001 323.5724) rotate(-45) scale(0.1 -0.1)"><use href="#DejaVuSans-4a"/><use href="#DejaVuSans-75" transform="translate(29.492188 0)"/><use href="#DejaVuSans-6e" transform="translate(92.871094 0)"/><use href="#DejaVuSans-20" transform="translate(156.25 0)"/><use href="#DejaVuSans-32" transform="translate(188.037109 0)"/><use href="#DejaVuSans-30" transform="translate(251.660156 0)"/><use href="#DejaVuSans-32" transform="translate(315.283203 0)"/><use href="#DejaVuSans-31" transform="translate(378.90625 0)"/></g></g></g><g id="xtick_27"><g id="line2d_53"><path d="M 609.48 279.72 L 609.48 24.12 " clip-path="url(#p687c3cbe19)" style="fill: none; stroke-dasharray: 1.85,0.8; stroke-dashoffset: 0; stroke: #b0b0b0; stroke-width: 0.5"/></g><g id="line2d_54"><g><use href="#m1504cfccaf" x="609.48" y="279.72" style="stroke: #000000; stroke-width: 0.8"/></g></g><g id="text_27"><!-- Jul 2021 --><g transform="translate(577.4492 321.4156) rotate(-45) scale(0.1 -0.1)"><use href="#DejaVuSans-4a"/><use href="#DejaVuSans-75" transform="translate(29.492188 0)"/><use href="#DejaVuSans-6c" transform="translate(92.871094 0)"/><use href="#DejaVuSans-20" transform="translate(120.654297 0)"/><use href="#DejaVuSans-32" transform="translate(152.441406 0)"/><use href="#DejaVuSans-30" transform="translate(216.064453 0)"/><use href="#DejaVuSans-32" transform="translate(279.6875 0)"/><use href="#DejaVuSans-31" transform="translate(343.310547 0)"/></g></g></g><g id="xtick_28"><g id="line2d_55"><path d="M 630.36 279.72 L 630.36 24.12 " clip-path="url(#p687c3cbe19)" style="fill: none; stroke-dasharray: 1.85,0.8; stroke-dashoffset: 0; stroke: #b0b0b0; stroke-width: 0.5"/></g><g id="line2d_56"><g><use href="#m1504cfccaf" x="630.36" y="279.72" style="stroke: #000000; stroke-width: 0.8"/></g></g><g id="text_28"><!-- Aug 2021 --><g transform="translate(594.11 326.3313) rotate(-45) scale(0.1 -0.1)"><use href="#DejaVuSans-41"/><use href="#DejaVuSans-75" transform="translate(68.408203 0)"/><use href="#DejaVuSans-67" transform="translate(131.787109 0)"/><use href="#DejaVuSans-20" transform="translate(195.263672 0)"/><use href="#DejaVuSans-32" transform="translate(227.050781 0)"/><use href="#DejaVuSans-30" transform="translate(290.673828 0)"/><use href="#DejaVuSans-32" transform="translate(354.296875 0)"/><use href="#DejaVuSans-31" transform="translate(417.919922 0)"/></g></g></g><g id="xtick_29"><g id="line2d_57"><path d="M 651.96 279.72 L 651.96 24.12 " clip-path="url(#p687c3cbe19)" style="fill: none; stroke-dasharray: 1.85,0.8; stroke-dashoffset: 0; stroke: #b0b0b0; stroke-width: 0.5"/></g><g id="line2d_58"><g><use href="#m1504cfccaf" x="651.96" y="279.72" style="stroke: #000000; stroke-width: 0.8"/></g></g><g id="text_29"><!-- Sep 2021 --><g transform="translate(615.625 325.6729) rotate(-45) scale(0.1 -0.1)"><use href="#DejaVuSans-53"/><use href="#DejaVuSans-65" transform="translate(63.476562 0)"/><use href="#DejaVuSans-70" transform="translate(125 0)"/><use href="#DejaVuSans-20" transform="translate(188.476562 0)"/><use href="#DejaVuSans-32" transform="translate(220.263672 0)"/><use href="#DejaVuSans-30" transform="translate(283.886719 0)"/><use href="#DejaVuSans-32" transform="translate(347.509766 0)"/><use href="#DejaVuSans-31" transform="translate(411.132812 0)"/></g></g></g><g id="xtick_30"><g id="line2d_59"><path d="M 672.12 279.72 L 672.12 24.12 " clip-path="url(#p687c3cbe19)" style="fill: none; stroke-dasharray: 1.85,0.8; stroke-dashoffset: 0; stroke: #b0b0b0; stroke-width: 0.5"/></g><g id="line2d_60"><g><use href="#m1504cfccaf" x="672.12" y="279.72" style="stroke: #000000; stroke-width: 0.8"/></g></g><g id="text_30"><!-- Oct 2021 --><g transform="translate(637.3498 325.0202) rotate(-45) scale(0.1 -0.1)"><use href="#DejaVuSans-4f"/><use href="#DejaVuSans-63" transform="translate(78.710938 0)"/><use href="#DejaVuSans-74" transform="translate(133.691406 0)"/><use href="#DejaVuSans-20" transform="translate(172.900391 0)"/><use href="#DejaVuSans-32" transform="translate(204.6875 0)"/><use href="#DejaVuSans-30" transform="translate(268.310547 0)"/><use href="#DejaVuSans-32" transform="translate(331.933594 0)"/><use href="#DejaVuSans-31" transform="translate(395.556641 0)"/></g></g></g><g id="xtick_31"><g id="line2d_61"><path d="M 693.72 279.72 L 693.72 24.12 " clip-path="url(#p687c3cbe19)" style="fill: none; stroke-dasharray: 1.85,0.8; stroke-dashoffset: 0; stroke: #b0b0b0; stroke-width: 0.5"/></g><g id="line2d_62"><g><use href="#m1504cfccaf" x="693.72" y="279.72" style="stroke: #000000; stroke-width: 0.8"/></g></g><g id="text_31"><!-- Nov 2021 --><g transform="translate(656.8109 326.4157) rotate(-45) scale(0.1 -0.1)"><use href="#DejaVuSans-4e"/><use href="#DejaVuSans-6f" transform="translate(74.804688 0)"/><use href="#DejaVuSans-76" transform="translate(135.986328 0)"/><use href="#DejaVuSans-20" transform="translate(195.166016 0)"/><use href="#DejaVuSans-32" transform="translate(226.953125 0)"/><use href="#DejaVuSans-30" transform="translate(290.576172 0)"/><use href="#DejaVuSans-32" transform="translate(354.199219 0)"/><use href="#DejaVuSans-31" transform="translate(417.822266 0)"/></g></g></g><g id="xtick_32"><g id="line2d_63"><path d="M 713.88 279.72 L 713.88 24.12 " clip-path="url(#p687c3cbe19)" style="fill: none; stroke-dasharray: 1.85,0.8; stroke-dashoffset: 0; stroke: #b0b0b0; stroke-width: 0.5"/></g><g id="line2d_64"><g><use href="#m1504cfccaf" x="713.88" y="279.72" style="stroke: #000000; stroke-width: 0.8"/></g></g><g id="text_32"><!-- Dec 2021 --><g transform="translate(677.7313 326.3875) rotate(-45) scale(0.1 -0.1)"><use href="#DejaVuSans-44"/><use href="#DejaVuSans-65" transform="translate(77.001953 0)"/><use href="#DejaVuSans-63" transform="translate(138.525391 0)"/><use href="#DejaVuSans-20" transform="translate(193.505859 0)"/><use href="#DejaVuSans-32" transform="translate(225.292969 0)"/><use href="#DejaVuSans-30" transform="translate(288.916016 0)"/><use href="#DejaVuSans-32" transform="translate(352.539062 0)"/><use href="#DejaVuSans-31" transform="translate(416.162109 0)"/></g></g></g><g id="xtick_33"><g id="line2d_65"><path d="M 735.48 279.72 L 735.48 24.12 " clip-path="url(#p687c3cbe19)" style="fill: none; stroke-dasharray: 1.85,0.8; stroke-dashoffset: 0; stroke: #b0b0b0; stroke-width: 0.5"/></g><g id="line2d_66"><g><use href="#m1504cfccaf" x="735.48" y="279.72" style="stroke: #000000; stroke-width: 0.8"/></g></g><g id="text_33"><!-- Jan 2022 --><g transform="translate(701.371 323.4244) rotate(-45) scale(0.1 -0.1)"><use href="#DejaVuSans-4a"/><use href="#DejaVuSans-61" transform="translate(29.492188 0)"/><use href="#DejaVuSans-6e" transform="translate(90.771484 0)"/><use href="#DejaVuSans-20" transform="translate(154.150391 0)"/><use href="#DejaVuSans-32" transform="translate(185.9375 0)"/><use href="#DejaVuSans-30" transform="translate(249.560547 0)"/><use href="#DejaVuSans-32" transform="translate(313.183594 0)"/><use href="#DejaVuSans-32" transform="translate(376.806641 0)"/></g></g></g><g id="xtick_34"><g id="line2d_67"><path d="M 756.36 279.72 L 756.36 24.12 " clip-path="url(#p687c3cbe19)" style="fill: none; stroke-dasharray: 1.85,0.8; stroke-dashoffset: 0; stroke: #b0b0b0; stroke-width: 0.5"/></g><g id="line2d_68"><g><use href="#m1504cfccaf" x="756.36" y="279.72" style="stroke: #000000; stroke-width: 0.8"/></g></g><g id="text_34"><!-- Feb 2022 --><g transform="translate(721.6 324.9519) rotate(-45) scale(0.1 -0.1)"><use href="#DejaVuSans-46"/><use href="#DejaVuSans-65" transform="translate(52.019531 0)"/><use href="#DejaVuSans-62" transform="translate(113.542969 0)"/><use href="#DejaVuSans-20" transform="translate(177.019531 0)"/><use href="#DejaVuSans-32" transform="translate(208.806641 0)"/><use href="#DejaVuSans-30" transform="translate(272.429688 0)"/><use href="#DejaVuSans-32" transform="translate(336.052734 0)"/><use href="#DejaVuSans-32" transform="translate(399.675781 0)"/></g></g></g><g id="xtick_35"><g id="line2d_69"><path d="M 775.8 279.72 L 775.8 24.12 " clip-path="url(#p687c3cbe19)" style="fill: none; stroke-dasharray: 1.85,0.8; stroke-dashoffset: 0; stroke: #b0b0b0; stroke-width: 0.5"/></g><g id="line2d_70"><g><use href="#m1504cfccaf" x="775.8" y="279.72" style="stroke: #000000; stroke-width: 0.8"/></g></g><g id="text_35"><!-- Mar 2022 --><g transform="translate(739.6703 325.685) rotate(-45) scale(0.1 -0.1)"><use href="#DejaVuSans-4d"/><use href="#DejaVuSans-61" transform="translate(86.279297 0)"/><use href="#DejaVuSans-72" transform="translate(147.558594 0)"/><use href="#DejaVuSans-20" transform="translate(188.671875 0)"/><use href="#DejaVuSans-32" transform="translate(220.458984 0)"/><use href="#DejaVuSans-30" transform="translate(284.082031 0)"/><use href="#DejaVuSans-32" transform="translate(347.705078 0)"/><use href="#DejaVuSans-32" transform="translate(411.328125 0)"/></g></g></g><g id="xtick_36"><g id="line2d_71"><path d="M 796.68 279.72 L 796.68 24.12 " clip-path="url(#p687c3cbe19)" style="fill: none; stroke-dasharray: 1.85,0.8; stroke-dashoffset: 0; stroke: #b0b0b0; stroke-width: 0.5"/></g><g id="line2d_72"><g><use href="#m1504cfccaf" x="796.68" y="279.72" style="stroke: #000000; stroke-width: 0.8"/></g></g><g id="text_36"><!-- Apr 2022 --><g transform="translate(761.905 324.9369) rotate(-45) scale(0.1 -0.1)"><use href="#DejaVuSans-41"/><use href="#DejaVuSans-70" transform="translate(68.408203 0)"/><use href="#DejaVuSans-72" transform="translate(131.884766 0)"/><use href="#DejaVuSans-20" transform="translate(172.998047 0)"/><use href="#DejaVuSans-32" transform="translate(204.785156 0)"/><use href="#DejaVuSans-30" transform="translate(268.408203 0)"/><use href="#DejaVuSans-32" transform="translate(332.03125 0)"/><use href="#DejaVuSans-32" transform="translate(395.654297 0)"/></g></g></g><g id="xtick_37"><g id="line2d_73"><path d="M 817.56 279.72 L 817.56 24.12 " clip-path="url(#p687c3cbe19)" style="fill: none; stroke-dasharray: 1.85,0.8; stroke-dashoffset: 0; stroke: #b0b0b0; stroke-width: 0.5"/></g><g id="line2d_74"><g><use href="#m1504cfccaf" x="817.56" y="279.72" style="stroke: #000000; stroke-width: 0.8"/></g></g><g id="text_37"><!-- May 2022 --><g transform="translate(779.9607 327.0533) rotate(-45) scale(0.1 -0.1)"><use href="#DejaVuSans-4d"/><use href="#DejaVuSans-61" transform="translate(86.279297 0)"/><use href="#DejaVuSans-79" transform="translate(147.558594 0)"/><use href="#DejaVuSans-20" transform="translate(206.738281 0)"/><use href="#DejaVuSans-32" transform="translate(238.525391 0)"/><use href="#DejaVuSans-30" transform="translate(302.148438 0)"/><use href="#DejaVuSans-32" transform="translate(365.771484 0)"/><use href="#DejaVuSans-32" transform="translate(429.394531 0)"/></g></g></g><g id="xtick_38"><g id="line2d_75"><path d="M 838.44 279.72 L 838.44 24.12 " clip-path="url(#p687c3cbe19)" style="fill: none; stroke-dasharray: 1.85,0.8; stroke-dashoffset: 0; stroke: #b0b0b0; stroke-width: 0.5"/></g><g id="line2d_76"><g><use href="#m1504cfccaf" x="838.44" y="279.72" style="stroke: #000000; stroke-width: 0.8"/></g></g><g id="text_38"><!-- Jun 2022 --><g transform="translate(804.2082 323.5724) rotate(-45) scale(0.1 -0.1)"><use href="#DejaVuSans-4a"/><use href="#DejaVuSans-75" transform="translate(29.492188 0)"/><use href="#DejaVuSans-6e" transform="translate(92.871094 0)"/><use href="#DejaVuSans-20" transform="translate(156.25 0)"/><use href="#DejaVuSans-32" transform="translate(188.037109 0)"/><use href="#DejaVuSans-30" transform="translate(251.660156 0)"/><use href="#DejaVuSans-32" transform="translate(315.283203 0)"/><use href="#DejaVuSans-32" transform="translate(378.90625 0)"/></g></g></g><g id="xtick_39"><g id="line2d_77"><path d="M 859.32 279.72 L 859.32 24.12 " clip-path="url(#p687c3cbe19)" style="fill: none; stroke-dasharray: 1.85,0.8; stroke-dashoffset: 0; stroke: #b0b0b0; stroke-width: 0.5"/></g><g id="line2d_78"><g><use href="#m1504cfccaf" x="859.32" y="279.72" style="stroke: #000000; stroke-width: 0.8"/></g></g><g id="text_39"><!-- Jul 2022 --><g transform="translate(827.2572 321.4156) rotate(-45) scale(0.1 -0.1)"><use href="#DejaVuSans-4a"/><use href="#DejaVuSans-75" transform="translate(29.492188 0)"/><use href="#DejaVuSans-6c" transform="translate(92.871094 0)"/><use href="#DejaVuSans-20" transform="translate(120.654297 0)"/><use href="#DejaVuSans-32" transform="translate(152.441406 0)"/><use href="#DejaVuSans-30" transform="translate(216.064453 0)"/><use href="#DejaVuSans-32" transform="translate(279.6875 0)"/><use href="#DejaVuSans-32" transform="translate(343.310547 0)"/></g></g></g><g id="xtick_40"><g id="line2d_79"><path d="M 880.2 279.72 L 880.2 24.12 " clip-path="url(#p687c3cbe19)" style="fill: none; stroke-dasharray: 1.85,0.8; stroke-dashoffset: 0; stroke: #b0b0b0; stroke-width: 0.5"/></g><g id="line2d_80"><g><use href="#m1504cfccaf" x="880.2" y="279.72" style="stroke: #000000; stroke-width: 0.8"/></g></g><g id="text_40"><!-- Aug 2022 --><g transform="translate(843.9181 326.3313) rotate(-45) scale(0.1 -0.1)"><use href="#DejaVuSans-41"/><use href="#DejaVuSans-75" transform="translate(68.408203 0)"/><use href="#DejaVuSans-67" transform="translate(131.787109 0)"/><use href="#DejaVuSans-20" transform="translate(195.263672 0)"/><use href="#DejaVuSans-32" transform="translate(227.050781 0)"/><use href="#DejaVuSans-30" transform="translate(290.673828 0)"/><use href="#DejaVuSans-32" transform="translate(354.296875 0)"/><use href="#DejaVuSans-32" transform="translate(417.919922 0)"/></g></g></g><g id="xtick_41"><g id="line2d_81"><path d="M 901.8 279.72 L 901.8 24.12 " clip-path="url(#p687c3cbe19)" style="fill: none; stroke-dasharray: 1.85,0.8; stroke-dashoffset: 0; stroke: #b0b0b0; stroke-width: 0.5"/></g><g id="line2d_82"><g><use href="#m1504cfccaf" x="901.8" y="279.72" style="stroke: #000000; stroke-width: 0.8"/></g></g><g id="text_41"><!-- Sep 2022 --><g transform="translate(865.4331 325.6729) rotate(-45) scale(0.1 -0.1)"><use href="#DejaVuSans-53"/><use href="#DejaVuSans-65" transform="translate(63.476562 0)"/><use href="#DejaVuSans-70" transform="translate(125 0)"/><use href="#DejaVuSans-20" transform="translate(188.476562 0)"/><use href="#DejaVuSans-32" transform="translate(220.263672 0)"/><use href="#DejaVuSans-30" transform="translate(283.886719 0)"/><use href="#DejaVuSans-32" transform="translate(347.509766 0)"/><use href="#DejaVuSans-32" transform="translate(411.132812 0)"/></g></g></g><g id="xtick_42"><g id="line2d_83"><path d="M 921.96 279.72 L 921.96 24.12 " clip-path="url(#p687c3cbe19)" style="fill: none; stroke-dasharray: 1.85,0.8; stroke-dashoffset: 0; stroke: #b0b0b0; stroke-width: 0.5"/></g><g id="line2d_84"><g><use href="#m1504cfccaf" x="921.96" y="279.72" style="stroke: #000000; stroke-width: 0.8"/></g></g><g id="text_42"><!-- Oct 2022 --><g transform="translate(887.2479 325.0202) rotate(-45) scale(0.1 -0.1)"><use href="#DejaVuSans-4f"/><use href="#DejaVuSans-63" transform="translate(78.710938 0)"/><use href="#DejaVuSans-74" transform="translate(133.691406 0)"/><use href="#DejaVuSans-20" transform="translate(172.900391 0)"/><use href="#DejaVuSans-32" transform="translate(204.6875 0)"/><use href="#DejaVuSans-30" transform="translate(268.310547 0)"/><use href="#DejaVuSans-32" transform="translate(331.933594 0)"/><use href="#DejaVuSans-32" transform="translate(395.556641 0)"/></g></g></g><g id="xtick_43"><g id="line2d_85"><path d="M 943.56 279.72 L 943.56 24.12 " clip-path="url(#p687c3cbe19)" style="fill: none; stroke-dasharray: 1.85,0.8; stroke-dashoffset: 0; stroke: #b0b0b0; stroke-width: 0.5"/></g><g id="line2d_86"><g><use href="#m1504cfccaf" x="943.56" y="279.72" style="stroke: #000000; stroke-width: 0.8"/></g></g><g id="text_43"><!-- Nov 2022 --><g transform="translate(906.7089 326.4157) rotate(-45) scale(0.1 -0.1)"><use href="#DejaVuSans-4e"/><use href="#DejaVuSans-6f" transform="translate(74.804688 0)"/><use href="#DejaVuSans-76" transform="translate(135.986328 0)"/><use href="#DejaVuSans-20" transform="translate(195.166016 0)"/><use href="#DejaVuSans-32" transform="translate(226.953125 0)"/><use href="#DejaVuSans-30" transform="translate(290.576172 0)"/><use href="#DejaVuSans-32" transform="translate(354.199219 0)"/><use href="#DejaVuSans-32" transform="translate(417.822266 0)"/></g></g></g><g id="xtick_44"><g id="line2d_87"><path d="M 963.72 279.72 L 963.72 24.12 " clip-path="url(#p687c3cbe19)" style="fill: none; stroke-dasharray: 1.85,0.8; stroke-dashoffset: 0; stroke: #b0b0b0; stroke-width: 0.5"/></g><g id="line2d_88"><g><use href="#m1504cfccaf" x="963.72" y="279.72" style="stroke: #000000; stroke-width: 0.8"/></g></g><g id="text_44"><!-- Dec 2022 --><g transform="translate(927.5393 326.3875) rotate(-45) scale(0.1 -0.1)"><use href="#DejaVuSans-44"/><use href="#DejaVuSans-65" transform="translate(77.001953 0)"/><use href="#DejaVuSans-63" transform="translate(138.525391 0)"/><use href="#DejaVuSans-20" transform="translate(193.505859 0)"/><use href="#DejaVuSans-32" transform="translate(225.292969 0)"/><use href="#DejaVuSans-30" transform="translate(288.916016 0)"/><use href="#DejaVuSans-32" transform="translate(352.539062 0)"/><use href="#DejaVuSans-32" transform="translate(416.162109 0)"/></g></g></g><g id="xtick_45"><g id="line2d_89"><path d="M 985.32 279.72 L 985.32 24.12 " clip-path="url(#p687c3cbe19)" style="fill: none; stroke-dasharray: 1.85,0.8; stroke-dashoffset: 0; stroke: #b0b0b0; stroke-width: 0.5"/></g><g id="line2d_90"><g><use href="#m1504cfccaf" x="985.32" y="279.72" style="stroke: #000000; stroke-width: 0.8"/></g></g><g id="text_45"><!-- Jan 2023 --><g transform="translate(951.179 323.5144) rotate(-45) scale(0.1 -0.1)"><defs><path id="DejaVuSans-33" d="M 2597 2516 Q 3050 2419 3304 2112 Q 3559 1806 3559 1356 Q 3559 666 3084 287 Q 2609 -91 1734 -91 Q 1441 -91 1130 -33 Q 819 25 488 141 L 488 750 Q 750 597 1062 519 Q 1375 441 1716 441 Q 2309 441 2620 675 Q 2931 909 2931 1356 Q 2931 1769 2642 2001 Q 2353 2234 1838 2234 L 1294 2234 L 1294 2753 L 1863 2753 Q 2328 2753 2575 2939 Q 2822 3125 2822 3475 Q 2822 3834 2567 4026 Q 2313 4219 1838 4219 Q 1578 4219 1281 4162 Q 984 4106 628 3988 L 628 4550 Q 988 4650 1302 4700 Q 1616 4750 1894 4750 Q 2613 4750 3031 4423 Q 3450 4097 3450 3541 Q 3450 3153 3228 2886 Q 3006 2619 2597 2516 z " transform="scale(0.015625)"/></defs><use href="#DejaVuSans-4a"/><use href="#DejaVuSans-61" transform="translate(29.492188 0)"/><use href="#DejaVuSans-6e" transform="translate(90.771484 0)"/><use href="#DejaVuSans-20" transform="translate(154.150391 0)"/><use href="#DejaVuSans-32" transform="translate(185.9375 0)"/><use href="#DejaVuSans-30" transform="translate(249.560547 0)"/><use href="#DejaVuSans-32" transform="translate(313.183594 0)"/><use href="#DejaVuSans-33" transform="translate(376.806641 0)"/></g></g></g><g id="xtick_46"><g id="line2d_91"><path d="M 1006.2 279.72 L 1006.2 24.12 " clip-path="url(#p687c3cbe19)" style="fill: none; stroke-dasharray: 1.85,0.8; stroke-dashoffset: 0; stroke: #b0b0b0; stroke-width: 0.5"/></g><g id="line2d_92"><g><use href="#m1504cfccaf" x="1006.2" y="279.72" style="stroke: #000000; stroke-width: 0.8"/></g></g><g id="text_46"><!-- Feb 2023 --><g transform="translate(971.4081 324.9519) rotate(-45) scale(0.1 -0.1)"><use href="#DejaVuSans-46"/><use href="#DejaVuSans-65" transform="translate(52.019531 0)"/><use href="#DejaVuSans-62" transform="translate(113.542969 0)"/><use href="#DejaVuSans-20" transform="translate(177.019531 0)"/><use href="#DejaVuSans-32" transform="translate(208.806641 0)"/><use href="#DejaVuSans-30" transform="translate(272.429688 0)"/><use href="#DejaVuSans-32" transform="translate(336.052734 0)"/><use href="#DejaVuSans-33" transform="translate(399.675781 0)"/></g></g></g><g id="xtick_47"><g id="line2d_93"><path d="M 1025.64 279.72 L 1025.64 24.12 " clip-path="url(#p687c3cbe19)" style="fill: none; stroke-dasharray: 1.85,0.8; stroke-dashoffset: 0; stroke: #b0b0b0; stroke-width: 0.5"/></g><g id="line2d_94"><g><use href="#m1504cfccaf" x="1025.64" y="279.72" style="stroke: #000000; stroke-width: 0.8"/></g></g><g id="text_47"><!-- Mar 2023 --><g transform="translate(989.4783 325.685) rotate(-45) scale(0.1 -0.1)"><use href="#DejaVuSans-4d"/><use href="#DejaVuSans-61" transform="translate(86.279297 0)"/><use href="#DejaVuSans-72" transform="translate(147.558594 0)"/><use href="#DejaVuSans-20" transform="translate(188.671875 0)"/><use href="#DejaVuSans-32" transform="translate(220.458984 0)"/><use href="#DejaVuSans-30" transform="translate(284.082031 0)"/><use href="#DejaVuSans-32" transform="translate(347.705078 0)"/><use href="#DejaVuSans-33" transform="translate(411.328125 0)"/></g></g></g><g id="xtick_48"><g id="line2d_95"><path d="M 1046.52 279.72 L 1046.52 24.12 " clip-path="url(#p687c3cbe19)" style="fill: none; stroke-dasharray: 1.85,0.8; stroke-dashoffset: 0; stroke: #b0b0b0; stroke-width: 0.5"/></g><g id="line2d_96"><g><use href="#m1504cfccaf" x="1046.52" y="279.72" style="stroke: #000000; stroke-width: 0.8"/></g></g><g id="text_48"><!-- Apr 2023 --><g transform="translate(1011.7131 324.8469) rotate(-45) scale(0.1 -0.1)"><use href="#DejaVuSans-41"/><use href="#DejaVuSans-70" transform="translate(68.408203 0)"/><use href="#DejaVuSans-72" transform="translate(131.884766 0)"/><use href="#DejaVuSans-20" transform="translate(172.998047 0)"/><use href="#DejaVuSans-32" transform="translate(204.785156 0)"/><use href="#DejaVuSans-30" transform="translate(268.408203 0)"/><use href="#DejaVuSans-32" transform="translate(332.03125 0)"/><use href="#DejaVuSans-33" transform="translate(395.654297 0)"/></g></g></g><g id="xtick_49"><g id="line2d_97"><path d="M 1067.4 279.72 L 1067.4 24.12 " clip-path="url(#p687c3cbe19)" style="fill: none; stroke-dasharray: 1.85,0.8; stroke-dashoffset: 0; stroke: #b0b0b0; stroke-width: 0.5"/></g><g id="line2d_98"><g><use href="#m1504cfccaf" x="1067.4" y="279.72" style="stroke: #000000; stroke-width: 0.8"/></g></g><g id="text_49"><!-- May 2023 --><g transform="translate(1029.7688 327.0533) rotate(-45) scale(0.1 -0.1)"><use href="#DejaVuSans-4d"/><use href="#DejaVuSans-61" transform="translate(86.279297 0)"/><use href="#DejaVuSans-79" transform="translate(147.558594 0)"/><use href="#DejaVuSans-20" transform="translate(206.738281 0)"/><use href="#DejaVuSans-32" transform="translate(238.525391 0)"/><use href="#DejaVuSans-30" transform="translate(302.148438 0)"/><use href="#DejaVuSans-32" transform="translate(365.771484 0)"/><use href="#DejaVuSans-33" transform="translate(429.394531 0)"/></g></g></g><g id="xtick_50"><g id="line2d_99"><path d="M 1088.28 279.72 L 1088.28 24.12 " clip-path="url(#p687c3cbe19)" style="fill: none; stroke-dasharray: 1.85,0.8; stroke-dashoffset: 0; stroke: #b0b0b0; stroke-width: 0.5"/></g><g id="line2d_100"><g><use href="#m1504cfccaf" x="1088.28" y="279.72" style="stroke: #000000; stroke-width: 0.8"/></g></g><g id="text_50"><!-- Jun 2023 --><g transform="translate(1054.1062 323.5724) rotate(-45) scale(0.1 -0.1)"><use href="#DejaVuSans-4a"/><use href="#DejaVuSans-75" transform="translate(29.492188 0)"/><use href="#DejaVuSans-6e" transform="translate(92.871094 0)"/><use href="#DejaVuSans-20" transform="translate(156.25 0)"/><use href="#DejaVuSans-32" transform="translate(188.037109 0)"/><use href="#DejaVuSans-30" transform="translate(251.660156 0)"/><use href="#DejaVuSans-32" transform="translate(315.283203 0)"/><use href="#DejaVuSans-33" transform="translate(378.90625 0)"/></g></g></g><g id="xtick_51"><g id="line2d_101"><path d="M 1109.16 279.72 L 1109.16 24.12 " clip-path="url(#p687c3cbe19)" style="fill: none; stroke-dasharray: 1.85,0.8; stroke-dashoffset: 0; stroke: #b0b0b0; stroke-width: 0.5"/></g><g id="line2d_102"><g><use href="#m1504cfccaf" x="1109.16" y="279.72" style="stroke: #000000; stroke-width: 0.8"/></g></g><g id="text_51"><!-- Jul 2023 --><g transform="translate(1077.1553 321.4156) rotate(-45) scale(0.1 -0.1)"><use href="#DejaVuSans-4a"/><use href="#DejaVuSans-75" transform="translate(29.492188 0)"/><use href="#DejaVuSans-6c" transform="translate(92.871094 0)"/><use href="#DejaVuSans-20" transform="translate(120.654297 0)"/><use href="#DejaVuSans-32" transform="translate(152.441406 0)"/><use href="#DejaVuSans-30" transform="translate(216.064453 0)"/><use href="#DejaVuSans-32" transform="translate(279.6875 0)"/><use href="#DejaVuSans-33" transform="translate(343.310547 0)"/></g></g></g><g id="xtick_52"><g id="line2d_103"><path d="M 1130.04 279.72 L 1130.04 24.12 " clip-path="url(#p687c3cbe19)" style="fill: none; stroke-dasharray: 1.85,0.8; stroke-dashoffset: 0; stroke: #b0b0b0; stroke-width: 0.5"/></g><g id="line2d_104"><g><use href="#m1504cfccaf" x="1130.04" y="279.72" style="stroke: #000000; stroke-width: 0.8"/></g></g><g id="text_52"><!-- Aug 2023 --><g transform="translate(1093.7262 326.3313) rotate(-45) scale(0.1 -0.1)"><use href="#DejaVuSans-41"/><use href="#DejaVuSans-75" transform="translate(68.408203 0)"/><use href="#DejaVuSans-67" transform="translate(131.787109 0)"/><use href="#DejaVuSans-20" transform="translate(195.263672 0)"/><use href="#DejaVuSans-32" transform="translate(227.050781 0)"/><use href="#DejaVuSans-30" transform="translate(290.673828 0)"/><use href="#DejaVuSans-32" transform="translate(354.296875 0)"/><use href="#DejaVuSans-33" transform="translate(417.919922 0)"/></g></g></g><g id="xtick_53"><g id="line2d_105"><path d="M 1150.92 279.72 L 1150.92 24.12 " clip-path="url(#p687c3cbe19)" style="fill: none; stroke-dasharray: 1.85,0.8; stroke-dashoffset: 0; stroke: #b0b0b0; stroke-width: 0.5"/></g><g id="line2d_106"><g><use href="#m1504cfccaf" x="1150.92" y="279.72" style="stroke: #000000; stroke-width: 0.8"/></g></g><g id="text_53"><!-- Sep 2023 --><g transform="translate(1115.3311 325.6729) rotate(-45) scale(0.1 -0.1)"><use href="#DejaVuSans-53"/><use href="#DejaVuSans-65" transform="translate(63.476562 0)"/><use href="#DejaVuSans-70" transform="translate(125 0)"/><use href="#DejaVuSans-20" transform="translate(188.476562 0)"/><use href="#DejaVuSans-32" transform="translate(220.263672 0)"/><use href="#DejaVuSans-30" transform="translate(283.886719 0)"/><use href="#DejaVuSans-32" transform="translate(347.509766 0)"/><use href="#DejaVuSans-33" transform="translate(411.132812 0)"/></g></g></g><g id="xtick_54"><g id="line2d_107"><path d="M 1171.8 279.72 L 1171.8 24.12 " clip-path="url(#p687c3cbe19)" style="fill: none; stroke-dasharray: 1.85,0.8; stroke-dashoffset: 0; stroke: #b0b0b0; stroke-width: 0.5"/></g><g id="line2d_108"><g><use href="#m1504cfccaf" x="1171.8" y="279.72" style="stroke: #000000; stroke-width: 0.8"/></g></g><g id="text_54"><!-- Oct 2023 --><g transform="translate(1137.0559 325.0202) rotate(-45) scale(0.1 -0.1)"><use href="#DejaVuSans-4f"/><use href="#DejaVuSans-63" transform="translate(78.710938 0)"/><use href="#DejaVuSans-74" transform="translate(133.691406 0)"/><use href="#DejaVuSans-20" transform="translate(172.900391 0)"/><use href="#DejaVuSans-32" transform="translate(204.6875 0)"/><use href="#DejaVuSans-30" transform="translate(268.310547 0)"/><use href="#DejaVuSans-32" transform="translate(331.933594 0)"/><use href="#DejaVuSans-33" transform="translate(395.556641 0)"/></g></g></g><g id="xtick_55"><g id="line2d_109"><path d="M 1192.68 279.72 L 1192.68 24.12 " clip-path="url(#p687c3cbe19)" style="fill: none; stroke-dasharray: 1.85,0.8; stroke-dashoffset: 0; stroke: #b0b0b0; stroke-width: 0.5"/></g><g id="line2d_110"><g><use href="#m1504cfccaf" x="1192.68" y="279.72" style="stroke: #000000; stroke-width: 0.8"/></g></g><g id="text_55"><!-- Nov 2023 --><g transform="translate(1156.517 326.4157) rotate(-45) scale(0.1 -0.1)"><use href="#DejaVuSans-4e"/><use href="#DejaVuSans-6f" transform="translate(74.804688 0)"/><use href="#DejaVuSans-76" transform="translate(135.986328 0)"/><use href="#DejaVuSans-20" transform="translate(195.166016 0)"/><use href="#DejaVuSans-32" transform="translate(226.953125 0)"/><use href="#DejaVuSans-30" transform="translate(290.576172 0)"/><use href="#DejaVuSans-32" transform="translate(354.199219 0)"/><use href="#DejaVuSans-33" transform="translate(417.822266 0)"/></g></g></g><g id="xtick_56"><g id="line2d_111"><path d="M 1213.56 279.72 L 1213.56 24.12 " clip-path="url(#p687c3cbe19)" style="fill: none; stroke-dasharray: 1.85,0.8; stroke-dashoffset: 0; stroke: #b0b0b0; stroke-width: 0.5"/></g><g id="line2d_112"><g><use href="#m1504cfccaf" x="1213.56" y="279.72" style="stroke: #000000; stroke-width: 0.8"/></g></g><g id="text_56"><!-- Dec 2023 --><g transform="translate(1177.3474 326.3875) rotate(-45) scale(0.1 -0.1)"><use href="#DejaVuSans-44"/><use href="#DejaVuSans-65" transform="translate(77.001953 0)"/><use href="#DejaVuSans-63" transform="translate(138.525391 0)"/><use href="#DejaVuSans-20" transform="translate(193.505859 0)"/><use href="#DejaVuSans-32" transform="translate(225.292969 0)"/><use href="#DejaVuSans-30" transform="translate(288.916016 0)"/><use href="#DejaVuSans-32" transform="translate(352.539062 0)"/><use href="#DejaVuSans-33" transform="translate(416.162109 0)"/></g></g></g><g id="xtick_57"><g id="line2d_113"><path d="M 1234.44 279.72 L 1234.44 24.12 " clip-path="url(#p687c3cbe19)" style="fill: none; stroke-dasharray: 1.85,0.8; stroke-dashoffset: 0; stroke: #b0b0b0; stroke-width: 0.5"/></g><g id="line2d_114"><g><use href="#m1504cfccaf" x="1234.44" y="279.72" style="stroke: #000000; stroke-width: 0.8"/></g></g><g id="text_57"><!-- Jan 2024 --><g transform="translate(1200.9871 323.4244) rotate(-45) scale(0.1 -0.1)"><defs><path id="DejaVuSans-34" d="M 2419 4116 L 825 1625 L 2419 1625 L 2419 4116 z M 2253 4666 L 3047 4666 L 3047 1625 L 3713 1625 L 3713 1100 L 3047 1100 L 3047 0 L 2419 0 L 2419 1100 L 313 1100 L 313 1709 L 2253 4666 z " transform="scale(0.015625)"/></defs><use href="#DejaVuSans-4a"/><use href="#DejaVuSans-61" transform="translate(29.492188 0)"/><use href="#DejaVuSans-6e" transform="translate(90.771484 0)"/><use href="#DejaVuSans-20" transform="translate(154.150391 0)"/><use href="#DejaVuSans-32" transform="translate(185.9375 0)"/><use href="#DejaVuSans-30" transform="translate(249.560547 0)"/><use href="#DejaVuSans-32" transform="translate(313.183594 0)"/><use href="#DejaVuSans-34" transform="translate(376.806641 0)"/></g></g></g><g id="xtick_58"><g id="line2d_115"><path d="M 1256.04 279.72 L 1256.04 24.12 " clip-path="url(#p687c3cbe19)" style="fill: none; stroke-dasharray: 1.85,0.8; stroke-dashoffset: 0; stroke: #b0b0b0; stroke-width: 0.5"/></g><g id="line2d_116"><g><use href="#m1504cfccaf" x="1256.04" y="279.72" style="stroke: #000000; stroke-width: 0.8"/></g></g><g id="text_58"><!-- Feb 2024 --><g transform="translate(1221.3062 324.9519) rotate(-45) scale(0.1 -0.1)"><use href="#DejaVuSans-46"/><use href="#DejaVuSans-65" transform="translate(52.019531 0)"/><use href="#DejaVuSans-62" transform="translate(113.542969 0)"/><use href="#DejaVuSans-20" transform="translate(177.019531 0)"/><use href="#DejaVuSans-32" transform="translate(208.806641 0)"/><use href="#DejaVuSans-30" transform="translate(272.429688 0)"/><use href="#DejaVuSans-32" transform="translate(336.052734 0)"/><use href="#DejaVuSans-34" transform="translate(399.675781 0)"/></g></g></g><g id="xtick_59"><g id="line2d_117"><path d="M 1275.48 279.72 L 1275.48 24.12 " clip-path="url(#p687c3cbe19)" style="fill: none; stroke-dasharray: 1.85,0.8; stroke-dashoffset: 0; stroke: #b0b0b0; stroke-width: 0.5"/></g><g id="line2d_118"><g><use href="#m1504cfccaf" x="1275.48" y="279.72" style="stroke: #000000; stroke-width: 0.8"/></g></g><g id="text_59"><!-- Mar 2024 --><g transform="translate(1240.0608 325.685) rotate(-45) scale(0.1 -0.1)"><use href="#DejaVuSans-4d"/><use href="#DejaVuSans-61" transform="translate(86.279297 0)"/><use href="#DejaVuSans-72" transform="translate(147.558594 0)"/><use href="#DejaVuSans-20" transform="translate(188.671875 0)"/><use href="#DejaVuSans-32" transform="translate(220.458984 0)"/><use href="#DejaVuSans-30" transform="translate(284.082031 0)"/><use href="#DejaVuSans-32" transform="translate(347.705078 0)"/><use href="#DejaVuSans-34" transform="translate(411.328125 0)"/></g></g></g><g id="xtick_60"><g id="line2d_119"><path d="M 1297.08 279.72 L 1297.08 24.12 " clip-path="url(#p687c3cbe19)" style="fill: none; stroke-dasharray: 1.85,0.8; stroke-dashoffset: 0; stroke: #b0b0b0; stroke-width: 0.5"/></g><g id="line2d_120"><g><use href="#m1504cfccaf" x="1297.08" y="279.72" style="stroke: #000000; stroke-width: 0.8"/></g></g><g id="text_60"><!-- Apr 2024 --><g transform="translate(1262.2955 324.8469) rotate(-45) scale(0.1 -0.1)"><use href="#DejaVuSans-41"/><use href="#DejaVuSans-70" transform="translate(68.408203 0)"/><use href="#DejaVuSans-72" transform="translate(131.884766 0)"/><use href="#DejaVuSans-20" transform="translate(172.998047 0)"/><use href="#DejaVuSans-32" transform="translate(204.785156 0)"/><use href="#DejaVuSans-30" transform="translate(268.408203 0)"/><use href="#DejaVuSans-32" transform="translate(332.03125 0)"/><use href="#DejaVuSans-34" transform="translate(395.654297 0)"/></g></g></g><g id="xtick_61"><g id="line2d_121"><path d="M 1317.24 279.72 L 1317.24 24.12 " clip-path="url(#p687c3cbe19)" style="fill: none; stroke-dasharray: 1.85,0.8; stroke-dashoffset: 0; stroke: #b0b0b0; stroke-width: 0.5"/></g><g id="line2d_122"><g><use href="#m1504cfccaf" x="1317.24" y="279.72" style="stroke: #000000; stroke-width: 0.8"/></g></g><g id="text_61"><!-- May 2024 --><g transform="translate(1280.2612 326.9633) rotate(-45) scale(0.1 -0.1)"><use href="#DejaVuSans-4d"/><use href="#DejaVuSans-61" transform="translate(86.279297 0)"/><use href="#DejaVuSans-79" transform="translate(147.558594 0)"/><use href="#DejaVuSans-20" transform="translate(206.738281 0)"/><use href="#DejaVuSans-32" transform="translate(238.525391 0)"/><use href="#DejaVuSans-30" transform="translate(302.148438 0)"/><use href="#DejaVuSans-32" transform="translate(365.771484 0)"/><use href="#DejaVuSans-34" transform="translate(429.394531 0)"/></g></g></g><g id="xtick_62"><g id="line2d_123"><path d="M 1338.84 279.72 L 1338.84 24.12 " clip-path="url(#p687c3cbe19)" style="fill: none; stroke-dasharray: 1.85,0.8; stroke-dashoffset: 0; stroke: #b0b0b0; stroke-width: 0.5"/></g><g id="line2d_124"><g><use href="#m1504cfccaf" x="1338.84" y="279.72" style="stroke: #000000; stroke-width: 0.8"/></g></g><g id="text_62"><!-- Jun 2024 --><g transform="translate(1304.7787 323.3924) rotate(-45) scale(0.1 -0.1)"><use href="#DejaVuSans-4a"/><use href="#DejaVuSans-75" transform="translate(29.492188 0)"/><use href="#DejaVuSans-6e" transform="translate(92.871094 0)"/><use href="#DejaVuSans-20" transform="translate(156.25 0)"/><use href="#DejaVuSans-32" transform="translate(188.037109 0)"/><use href="#DejaVuSans-30" transform="translate(251.660156 0)"/><use href="#DejaVuSans-32" transform="translate(315.283203 0)"/><use href="#DejaVuSans-34" transform="translate(378.90625 0)"/></g></g></g><g id="xtick_63"><g id="line2d_125"><path d="M 1359 279.72 L 1359 24.12 " clip-path="url(#p687c3cbe19)" style="fill: none; stroke-dasharray: 1.85,0.8; stroke-dashoffset: 0; stroke: #b0b0b0; stroke-width: 0.5"/></g><g id="line2d_126"><g><use href="#m1504cfccaf" x="1359" y="279.72" style="stroke: #000000; stroke-width: 0.8"/></g></g><g id="text_63"><!-- Jul 2024 --><g transform="translate(1327.7377 321.4156) rotate(-45) scale(0.1 -0.1)"><use href="#DejaVuSans-4a"/><use href="#DejaVuSans-75" transform="translate(29.492188 0)"/><use href="#DejaVuSans-6c" transform="translate(92.871094 0)"/><use href="#DejaVuSans-20" transform="translate(120.654297 0)"/><use href="#DejaVuSans-32" transform="translate(152.441406 0)"/><use href="#DejaVuSans-30" transform="translate(216.064453 0)"/><use href="#DejaVuSans-32" transform="translate(279.6875 0)"/><use href="#DejaVuSans-34" transform="translate(343.310547 0)"/></g></g></g><g id="xtick_64"><g id="line2d_127"><path d="M 1380.6 279.72 L 1380.6 24.12 " clip-path="url(#p687c3cbe19)" style="fill: none; stroke-dasharray: 1.85,0.8; stroke-dashoffset: 0; stroke: #b0b0b0; stroke-width: 0.5"/></g><g id="line2d_128"><g><use href="#m1504cfccaf" x="1380.6" y="279.72" style="stroke: #000000; stroke-width: 0.8"/></g></g><g id="text_64"><!-- Aug 2024 --><g transform="translate(1344.3086 326.3313) rotate(-45) scale(0.1 -0.1)"><use href="#DejaVuSans-41"/><use href="#DejaVuSans-75" transform="translate(68.408203 0)"/><use href="#DejaVuSans-67" transform="translate(131.787109 0)"/><use href="#DejaVuSans-20" transform="translate(195.263672 0)"/><use href="#DejaVuSans-32" transform="translate(227.050781 0)"/><use href="#DejaVuSans-30" transform="translate(290.673828 0)"/><use href="#DejaVuSans-32" transform="translate(354.296875 0)"/><use href="#DejaVuSans-34" transform="translate(417.919922 0)"/></g></g></g><g id="xtick_65"><g id="line2d_129"><path d="M 1401.48 279.72 L 1401.48 24.12 " clip-path="url(#p687c3cbe19)" style="fill: none; stroke-dasharray: 1.85,0.8; stroke-dashoffset: 0; stroke: #b0b0b0; stroke-width: 0.5"/></g><g id="line2d_130"><g><use href="#m1504cfccaf" x="1401.48" y="279.72" style="stroke: #000000; stroke-width: 0.8"/></g></g><g id="text_65"><!-- Sep 2024 --><g transform="translate(1365.8236 325.6729) rotate(-45) scale(0.1 -0.1)"><use href="#DejaVuSans-53"/><use href="#DejaVuSans-65" transform="translate(63.476562 0)"/><use href="#DejaVuSans-70" transform="translate(125 0)"/><use href="#DejaVuSans-20" transform="translate(188.476562 0)"/><use href="#DejaVuSans-32" transform="translate(220.263672 0)"/><use href="#DejaVuSans-30" transform="translate(283.886719 0)"/><use href="#DejaVuSans-32" transform="translate(347.509766 0)"/><use href="#DejaVuSans-34" transform="translate(411.132812 0)"/></g></g></g><g id="xtick_66"><g id="line2d_131"><path d="M 1422.36 279.72 L 1422.36 24.12 " clip-path="url(#p687c3cbe19)" style="fill: none; stroke-dasharray: 1.85,0.8; stroke-dashoffset: 0; stroke: #b0b0b0; stroke-width: 0.5"/></g><g id="line2d_132"><g><use href="#m1504cfccaf" x="1422.36" y="279.72" style="stroke: #000000; stroke-width: 0.8"/></g></g><g id="text_66"><!-- Oct 2024 --><g transform="translate(1387.5484 324.9302) rotate(-45) scale(0.1 -0.1)"><use href="#DejaVuSans-4f"/><use href="#DejaVuSans-63" transform="translate(78.710938 0)"/><use href="#DejaVuSans-74" transform="translate(133.691406 0)"/><use href="#DejaVuSans-20" transform="translate(172.900391 0)"/><use href="#DejaVuSans-32" transform="translate(204.6875 0)"/><use href="#DejaVuSans-30" transform="translate(268.310547 0)"/><use href="#DejaVuSans-32" transform="translate(331.933594 0)"/><use href="#DejaVuSans-34" transform="translate(395.556641 0)"/></g></g></g><g id="text_67"><!-- Month --><g transform="translate(718.5297 342.272) scale(0.12 -0.12)"><defs><path id="DejaVuSans-68" d="M 3513 2113 L 3513 0 L 2938 0 L 2938 2094 Q 2938 2591 2744 2837 Q 2550 3084 2163 3084 Q 1697 3084 1428 2787 Q 1159 2491 1159 1978 L 1159 0 L 581 0 L 581 4863 L 1159 4863 L 1159 2956 Q 1366 3272 1645 3428 Q 1925 3584 2291 3584 Q 2894 3584 3203 3211 Q 3513 2838 3513 2113 z " transform="scale(0.015625)"/></defs><use href="#DejaVuSans-4d"/><use href="#DejaVuSans-6f" transform="translate(86.279297 0)"/><use href="#DejaVuSans-6e" transform="translate(147.460938 0)"/><use href="#DejaVuSans-74" transform="translate(210.839844 0)"/><use href="#DejaVuSans-68" transform="translate(250.048828 0)"/></g></g></g><g id="matplotlib.axis_2"><g id="ytick_1"><g id="line2d_133"><path d="M 50.76 279.72 L 1425.96 279.72 " clip-path="url(#p687c3cbe19)" style="fill: none; stroke-dasharray: 1.85,0.8; stroke-dashoffset: 0; stroke: #b0b0b0; stroke-width: 0.5"/></g><g id="line2d_134"><defs><path id="m5d545ce8f8" d="M 0 0 L -3.6 0 " style="stroke: #000000; stroke-width: 0.8"/></defs><g><use href="#m5d545ce8f8" x="50.76" y="279.72" style="stroke: #000000; stroke-width: 0.8"/></g></g><g id="text_68"><!-- 0 --><g transform="translate(37.4175 283.7971) scale(0.1 -0.1)"><use href="#DejaVuSans-30"/></g></g></g><g id="ytick_2"><g id="line2d_135"><path d="M 50.76 237.24 L 1425.96 237.24 " clip-path="url(#p687c3cbe19)" style="fill: none; stroke-dasharray: 1.85,0.8; stroke-dashoffset: 0; stroke: #b0b0b0; stroke-width: 0.5"/></g><g id="line2d_136"><g><use href="#m5d545ce8f8" x="50.76" y="237.24" style="stroke: #000000; stroke-width: 0.8"/></g></g><g id="text_69"><!-- 20 --><g transform="translate(30.155 241.2808) scale(0.1 -0.1)"><use href="#DejaVuSans-32"/><use href="#DejaVuSans-30" transform="translate(63.623047 0)"/></g></g></g><g id="ytick_3"><g id="line2d_137"><path d="M 50.76 194.76 L 1425.96 194.76 " clip-path="url(#p687c3cbe19)" style="fill: none; stroke-dasharray: 1.85,0.8; stroke-dashoffset: 0; stroke: #b0b0b0; stroke-width: 0.5"/></g><g id="line2d_138"><g><use href="#m5d545ce8f8" x="50.76" y="194.76" style="stroke: #000000; stroke-width: 0.8"/></g></g><g id="text_70"><!-- 40 --><g transform="translate(30.155 198.6745) scale(0.1 -0.1)"><use href="#DejaVuSans-34"/><use href="#DejaVuSans-30" transform="translate(63.623047 0)"/></g></g></g><g id="ytick_4"><g id="line2d_139"><path d="M 50.76 152.28 L 1425.96 152.28 " clip-path="url(#p687c3cbe19)" style="fill: none; stroke-dasharray: 1.85,0.8; stroke-dashoffset: 0; stroke: #b0b0b0; stroke-width: 0.5"/></g><g id="line2d_140"><g><use href="#m5d545ce8f8" x="50.76" y="152.28" style="stroke: #000000; stroke-width: 0.8"/></g></g><g id="text_71"><!-- 60 --><g transform="translate(30.245 155.5281) scale(0.1 -0.1)"><defs><path id="DejaVuSans-36" d="M 2113 2584 Q 1688 2584 1439 2293 Q 1191 2003 1191 1497 Q 1191 994 1439 701 Q 1688 409 2113 409 Q 2538 409 2786 701 Q 3034 994 3034 1497 Q 3034 2003 2786 2293 Q 2538 2584 2113 2584 z M 3366 4563 L 3366 3988 Q 3128 4100 2886 4159 Q 2644 4219 2406 4219 Q 1781 4219 1451 3797 Q 1122 3375 1075 2522 Q 1259 2794 1537 2939 Q 1816 3084 2150 3084 Q 2853 3084 3261 2657 Q 3669 2231 3669 1497 Q 3669 778 3244 343 Q 2819 -91 2113 -91 Q 1303 -91 875 529 Q 447 1150 447 2328 Q 447 3434 972 4092 Q 1497 4750 2381 4750 Q 2619 4750 2861 4703 Q 3103 4656 3366 4563 z " transform="scale(0.015625)"/></defs><use href="#DejaVuSans-36"/><use href="#DejaVuSans-30" transform="translate(63.623047 0)"/></g></g></g><g id="ytick_5"><g id="line2d_141"><path d="M 50.76 109.8 L 1425.96 109.8 " clip-path="url(#p687c3cbe19)" style="fill: none; stroke-dasharray: 1.85,0.8; stroke-dashoffset: 0; stroke: #b0b0b0; stroke-width: 0.5"/></g><g id="line2d_142"><g><use href="#m5d545ce8f8" x="50.76" y="109.8" style="stroke: #000000; stroke-width: 0.8"/></g></g><g id="text_72"><!-- 80 --><g transform="translate(30.245 113.0118) scale(0.1 -0.1)"><defs><path id="DejaVuSans-38" d="M 2034 2216 Q 1584 2216 1326 1975 Q 1069 1734 1069 1313 Q 1069 891 1326 650 Q 1584 409 2034 409 Q 2484 409 2743 651 Q 3003 894 3003 1313 Q 3003 1734 2745 1975 Q 2488 2216 2034 2216 z M 1403 2484 Q 997 2584 770 2862 Q 544 3141 544 3541 Q 544 4100 942 4425 Q 1341 4750 2034 4750 Q 2731 4750 3128 4425 Q 3525 4100 3525 3541 Q 3525 3141 3298 2862 Q 3072 2584 2669 2484 Q 3125 2378 3379 2068 Q 3634 1759 3634 1313 Q 3634 634 3220 271 Q 2806 -91 2034 -91 Q 1263 -91 848 271 Q 434 634 434 1313 Q 434 1759 690 2068 Q 947 2378 1403 2484 z M 1172 3481 Q 1172 3119 1398 2916 Q 1625 2713 2034 2713 Q 2441 2713 2670 2916 Q 2900 3119 2900 3481 Q 2900 3844 2670 4047 Q 2441 4250 2034 4250 Q 1625 4250 1398 4047 Q 1172 3844 1172 3481 z " transform="scale(0.015625)"/></defs><use href="#DejaVuSans-38"/><use href="#DejaVuSans-30" transform="translate(63.623047 0)"/></g></g></g><g id="ytick_6"><g id="line2d_143"><path d="M 50.76 67.32 L 1425.96 67.32 " clip-path="url(#p687c3cbe19)" style="fill: none; stroke-dasharray: 1.85,0.8; stroke-dashoffset: 0; stroke: #b0b0b0; stroke-width: 0.5"/></g><g id="line2d_144"><g><use href="#m5d545ce8f8" x="50.76" y="67.32" style="stroke: #000000; stroke-width: 0.8"/></g></g><g id="text_73"><!-- 100 --><g transform="translate(23.7025 70.6755) scale(0.1 -0.1)"><use href="#DejaVuSans-31"/><use href="#DejaVuSans-30" transform="translate(63.623047 0)"/><use href="#DejaVuSans-30" transform="translate(127.246094 0)"/></g></g></g><g id="ytick_7"><g id="line2d_145"><path d="M 50.76 24.12 L 1425.96 24.12 " clip-path="url(#p687c3cbe19)" style="fill: none; stroke-dasharray: 1.85,0.8; stroke-dashoffset: 0; stroke: #b0b0b0; stroke-width: 0.5"/></g><g id="line2d_146"><g><use href="#m5d545ce8f8" x="50.76" y="24.12" style="stroke: #000000; stroke-width: 0.8"/></g></g><g id="text_74"><!-- 120 --><g transform="translate(23.7025 28.1592) scale(0.1 -0.1)"><use href="#DejaVuSans-31"/><use href="#DejaVuSans-32" transform="translate(63.623047 0)"/><use href="#DejaVuSans-30" transform="translate(127.246094 0)"/></g></g></g><g id="text_75"><!-- Trend Value --><g transform="translate(16.2169 187.248) rotate(-90) scale(0.12 -0.12)"><defs><path id="DejaVuSans-54" d="M -19 4666 L 3928 4666 L 3928 4134 L 2272 4134 L 2272 0 L 1638 0 L 1638 4134 L -19 4134 L -19 4666 z " transform="scale(0.015625)"/><path id="DejaVuSans-64" d="M 2906 2969 L 2906 4863 L 3481 4863 L 3481 0 L 2906 0 L 2906 525 Q 2725 213 2448 61 Q 2172 -91 1784 -91 Q 1150 -91 751 415 Q 353 922 353 1747 Q 353 2572 751 3078 Q 1150 3584 1784 3584 Q 2172 3584 2448 3432 Q 2725 3281 2906 2969 z M 947 1747 Q 947 1113 1208 752 Q 1469 391 1925 391 Q 2381 391 2643 752 Q 2906 1113 2906 1747 Q 2906 2381 2643 2742 Q 2381 3103 1925 3103 Q 1469 3103 1208 2742 Q 947 2381 947 1747 z " transform="scale(0.015625)"/><path id="DejaVuSans-56" d="M 1831 0 L 50 4666 L 709 4666 L 2188 738 L 3669 4666 L 4325 4666 L 2547 0 L 1831 0 z " transform="scale(0.015625)"/></defs><use href="#DejaVuSans-54"/><use href="#DejaVuSans-72" transform="translate(46.333984 0)"/><use href="#DejaVuSans-65" transform="translate(85.197266 0)"/><use href="#DejaVuSans-6e" transform="translate(146.720703 0)"/><use href="#DejaVuSans-64" transform="translate(210.099609 0)"/><use href="#DejaVuSans-20" transform="translate(273.576172 0)"/><use href="#DejaVuSans-56" transform="translate(305.363281 0)"/><use href="#DejaVuSans-61" transform="translate(366.021484 0)"/><use href="#DejaVuSans-6c" transform="translate(427.300781 0)"/><use href="#DejaVuSans-75" transform="translate(455.083984 0)"/><use href="#DejaVuSans-65" transform="translate(518.462891 0)"/></g></g></g><g id="line2d_147"><path d="M 112.670455 170.991768 L 117.461294 168.861452 L 122.252133 181.643345 L 127.042973 181.643345 L 131.833812 190.164607 L 136.624652 173.122083 L 146.206331 185.903976 L 150.99717 181.643345 L 155.788009 192.294923 L 160.578849 188.034292 L 165.369688 188.034292 L 170.160528 183.773661 L 174.951367 188.034292 L 179.742207 183.773661 L 184.533046 181.643345 L 198.905564 188.034292 L 203.696404 173.122083 L 208.487243 151.818929 L 213.278083 156.07956 L 218.068922 156.07956 L 222.859761 151.818929 L 227.650601 143.297667 L 232.44144 147.558298 L 237.23228 149.688613 L 242.023119 158.209875 L 246.813959 149.688613 L 251.604798 162.470506 L 256.395637 160.340191 L 261.186477 160.340191 L 265.977316 166.731137 L 270.768156 164.600821 L 275.558995 168.861452 L 280.349835 158.209875 L 289.931513 153.949244 L 294.722353 158.209875 L 299.513192 160.340191 L 304.304032 153.949244 L 309.094871 162.470506 L 313.885711 168.861452 L 318.67655 158.209875 L 323.467389 166.731137 L 328.258229 160.340191 L 333.049068 132.646089 L 337.839908 166.731137 L 342.630747 175.252399 L 347.421587 158.209875 L 352.212426 162.470506 L 357.003265 162.470506 L 361.794105 153.949244 L 366.584944 177.382714 L 371.375784 183.773661 L 376.166623 183.773661 L 380.957463 185.903976 L 385.748302 181.643345 L 390.539141 188.034292 L 395.329981 183.773661 L 400.12082 96.430726 L 404.91166 179.51303 L 409.702499 183.773661 L 414.493339 192.294923 L 419.284178 192.294923 L 424.075017 190.164607 L 433.656696 194.425238 L 443.238375 185.903976 L 448.029215 185.903976 L 452.820054 188.034292 L 457.610893 185.903976 L 462.401733 192.294923 L 471.983412 188.034292 L 476.774251 179.51303 L 481.565091 181.643345 L 486.35593 185.903976 L 491.146769 185.903976 L 495.937609 181.643345 L 500.728448 190.164607 L 505.519288 192.294923 L 510.310127 192.294923 L 515.100967 188.034292 L 519.891806 188.034292 L 524.682645 190.164607 L 529.473485 183.773661 L 534.264324 194.425238 L 539.055164 196.555554 L 543.846003 192.294923 L 548.636843 190.164607 L 553.427682 207.207131 L 558.218521 196.555554 L 563.009361 190.164607 L 567.8002 185.903976 L 572.59104 175.252399 L 577.381879 158.209875 L 582.172719 166.731137 L 586.963558 168.861452 L 596.545237 177.382714 L 601.336076 175.252399 L 606.126916 168.861452 L 610.917755 173.122083 L 615.708595 173.122083 L 620.499434 181.643345 L 625.290273 185.903976 L 630.081113 185.903976 L 634.871952 190.164607 L 639.662792 192.294923 L 644.453631 192.294923 L 649.244471 190.164607 L 654.03531 190.164607 L 658.826149 188.034292 L 663.616989 190.164607 L 668.407828 188.034292 L 673.198668 194.425238 L 677.989507 192.294923 L 682.780347 194.425238 L 687.571186 185.903976 L 692.362025 192.294923 L 697.152865 192.294923 L 701.943704 185.903976 L 706.734544 188.034292 L 711.525383 183.773661 L 716.316223 192.294923 L 721.107062 192.294923 L 725.897901 177.382714 L 730.688741 185.903976 L 735.47958 179.51303 L 740.27042 185.903976 L 745.061259 196.555554 L 749.852099 196.555554 L 754.642938 192.294923 L 759.433777 192.294923 L 764.224617 196.555554 L 769.015456 198.685869 L 773.806296 185.903976 L 778.597135 192.294923 L 783.387975 192.294923 L 788.178814 188.034292 L 792.969653 185.903976 L 797.760493 190.164607 L 802.551332 170.991768 L 807.342172 179.51303 L 812.133011 173.122083 L 816.923851 156.07956 L 821.71469 168.861452 L 826.505529 175.252399 L 831.296369 177.382714 L 836.087208 173.122083 L 840.878048 170.991768 L 845.668887 177.382714 L 850.459727 177.382714 L 855.250566 175.252399 L 860.041405 183.773661 L 864.832245 177.382714 L 869.623084 181.643345 L 874.413924 175.252399 L 879.204763 183.773661 L 883.995603 185.903976 L 888.786442 179.51303 L 893.577281 183.773661 L 898.368121 185.903976 L 903.15896 185.903976 L 907.9498 181.643345 L 912.740639 185.903976 L 917.531479 185.903976 L 922.322318 188.034292 L 931.903997 179.51303 L 946.276515 179.51303 L 951.067355 181.643345 L 955.858194 175.252399 L 960.649033 179.51303 L 970.230712 183.773661 L 975.021552 173.122083 L 979.812391 183.773661 L 984.603231 168.861452 L 989.39407 179.51303 L 994.184909 175.252399 L 998.975749 162.470506 L 1003.766588 156.07956 L 1008.557428 158.209875 L 1013.348267 164.600821 L 1018.139107 164.600821 L 1022.929946 177.382714 L 1027.720785 177.382714 L 1032.511625 175.252399 L 1037.302464 188.034292 L 1042.093304 183.773661 L 1046.884143 177.382714 L 1051.674983 179.51303 L 1056.465822 170.991768 L 1061.256661 153.949244 L 1066.047501 166.731137 L 1070.83834 175.252399 L 1075.62918 151.818929 L 1080.420019 153.949244 L 1085.210859 151.818929 L 1090.001698 139.037036 L 1094.792537 147.558298 L 1099.583377 143.297667 L 1104.374216 136.90672 L 1109.165056 149.688613 L 1113.955895 143.297667 L 1118.746735 149.688613 L 1123.537574 158.209875 L 1128.328413 147.558298 L 1133.119253 147.558298 L 1137.910092 145.427982 L 1142.700932 136.90672 L 1147.491771 111.342935 L 1152.282611 70.86694 L 1157.07345 77.257887 L 1161.864289 66.60631 L 1166.655129 92.170095 L 1171.445968 96.430726 L 1176.236808 102.821673 L 1181.027647 111.342935 L 1185.818487 111.342935 L 1190.609326 126.255143 L 1195.400165 132.646089 L 1200.191005 126.255143 L 1204.981844 107.082304 L 1214.563523 111.342935 L 1219.354363 134.776405 L 1224.145202 132.646089 L 1228.936041 128.385458 L 1233.726881 147.558298 L 1238.51772 149.688613 L 1243.30856 149.688613 L 1248.099399 147.558298 L 1252.890239 149.688613 L 1257.681078 145.427982 L 1262.471917 149.688613 L 1267.262757 147.558298 L 1272.053596 151.818929 L 1276.844436 158.209875 L 1281.635275 179.51303 L 1286.426115 168.861452 L 1291.216954 153.949244 L 1296.007793 158.209875 L 1300.798633 147.558298 L 1310.380312 156.07956 L 1315.171151 134.776405 L 1319.961991 151.818929 L 1324.75283 160.340191 L 1329.543669 145.427982 L 1343.916188 151.818929 L 1348.707027 143.297667 L 1353.497867 153.949244 L 1358.288706 149.688613 L 1363.079545 160.340191 L 1363.079545 160.340191 " clip-path="url(#p687c3cbe19)" style="fill: none; stroke: #0000ff; stroke-width: 1.5; stroke-linecap: square"/><defs><path id="m07ba7ed919" d="M 0 3 C 0.795609 3 1.55874 2.683901 2.12132 2.12132 C 2.683901 1.55874 3 0.795609 3 0 C 3 -0.795609 2.683901 -1.55874 2.12132 -2.12132 C 1.55874 -2.683901 0.795609 -3 0 -3 C -0.795609 -3 -1.55874 -2.683901 -2.12132 -2.12132 C -2.683901 -1.55874 -3 -0.795609 -3 0 C -3 0.795609 -2.683901 1.55874 -2.12132 2.12132 C -1.55874 2.683901 -0.795609 3 0 3 z " style="stroke: #0000ff"/></defs><g clip-path="url(#p687c3cbe19)"><use href="#m07ba7ed919" x="112.68" y="171" style="fill: #0000ff; stroke: #0000ff"/><use href="#m07ba7ed919" x="117.72" y="169.56" style="fill: #0000ff; stroke: #0000ff"/><use href="#m07ba7ed919" x="122.76" y="181.8" style="fill: #0000ff; stroke: #0000ff"/><use href="#m07ba7ed919" x="127.08" y="181.8" style="fill: #0000ff; stroke: #0000ff"/><use href="#m07ba7ed919" x="132.12" y="190.44" style="fill: #0000ff; stroke: #0000ff"/><use href="#m07ba7ed919" x="137.16" y="173.16" style="fill: #0000ff; stroke: #0000ff"/><use href="#m07ba7ed919" x="141.48" y="179.64" style="fill: #0000ff; stroke: #0000ff"/><use href="#m07ba7ed919" x="146.52" y="186.12" style="fill: #0000ff; stroke: #0000ff"/><use href="#m07ba7ed919" x="151.56" y="181.8" style="fill: #0000ff; stroke: #0000ff"/><use href="#m07ba7ed919" x="155.88" y="192.6" style="fill: #0000ff; stroke: #0000ff"/><use href="#m07ba7ed919" x="160.92" y="188.28" style="fill: #0000ff; stroke: #0000ff"/><use href="#m07ba7ed919" x="165.96" y="188.28" style="fill: #0000ff; stroke: #0000ff"/><use href="#m07ba7ed919" x="170.28" y="183.96" style="fill: #0000ff; stroke: #0000ff"/><use href="#m07ba7ed919" x="175.32" y="188.28" style="fill: #0000ff; stroke: #0000ff"/><use href="#m07ba7ed919" x="180.36" y="183.96" style="fill: #0000ff; stroke: #0000ff"/><use href="#m07ba7ed919" x="184.68" y="181.8" style="fill: #0000ff; stroke: #0000ff"/><use href="#m07ba7ed919" x="189.72" y="183.96" style="fill: #0000ff; stroke: #0000ff"/><use href="#m07ba7ed919" x="194.76" y="186.12" style="fill: #0000ff; stroke: #0000ff"/><use href="#m07ba7ed919" x="199.08" y="188.28" style="fill: #0000ff; stroke: #0000ff"/><use href="#m07ba7ed919" x="204.12" y="173.16" style="fill: #0000ff; stroke: #0000ff"/><use href="#m07ba7ed919" x="209.16" y="152.28" style="fill: #0000ff; stroke: #0000ff"/><use href="#m07ba7ed919" x="213.48" y="156.6" style="fill: #0000ff; stroke: #0000ff"/><use href="#m07ba7ed919" x="218.52" y="156.6" style="fill: #0000ff; stroke: #0000ff"/><use href="#m07ba7ed919" x="223.56" y="152.28" style="fill: #0000ff; stroke: #0000ff"/><use href="#m07ba7ed919" x="227.88" y="143.64" style="fill: #0000ff; stroke: #0000ff"/><use href="#m07ba7ed919" x="232.92" y="147.96" style="fill: #0000ff; stroke: #0000ff"/><use href="#m07ba7ed919" x="237.24" y="150.12" style="fill: #0000ff; stroke: #0000ff"/><use href="#m07ba7ed919" x="242.28" y="158.76" style="fill: #0000ff; stroke: #0000ff"/><use href="#m07ba7ed919" x="247.32" y="150.12" style="fill: #0000ff; stroke: #0000ff"/><use href="#m07ba7ed919" x="251.64" y="163.08" style="fill: #0000ff; stroke: #0000ff"/><use href="#m07ba7ed919" x="256.68" y="160.92" style="fill: #0000ff; stroke: #0000ff"/><use href="#m07ba7ed919" x="261.72" y="160.92" style="fill: #0000ff; stroke: #0000ff"/><use href="#m07ba7ed919" x="266.04" y="167.4" style="fill: #0000ff; stroke: #0000ff"/><use href="#m07ba7ed919" x="271.08" y="165.24" style="fill: #0000ff; stroke: #0000ff"/><use href="#m07ba7ed919" x="276.12" y="169.56" style="fill: #0000ff; stroke: #0000ff"/><use href="#m07ba7ed919" x="280.44" y="158.76" style="fill: #0000ff; stroke: #0000ff"/><use href="#m07ba7ed919" x="285.48" y="156.6" style="fill: #0000ff; stroke: #0000ff"/><use href="#m07ba7ed919" x="290.52" y="154.44" style="fill: #0000ff; stroke: #0000ff"/><use href="#m07ba7ed919" x="294.84" y="158.76" style="fill: #0000ff; stroke: #0000ff"/><use href="#m07ba7ed919" x="299.88" y="160.92" style="fill: #0000ff; stroke: #0000ff"/><use href="#m07ba7ed919" x="304.92" y="154.44" style="fill: #0000ff; stroke: #0000ff"/><use href="#m07ba7ed919" x="309.24" y="163.08" style="fill: #0000ff; stroke: #0000ff"/><use href="#m07ba7ed919" x="314.28" y="169.56" style="fill: #0000ff; stroke: #0000ff"/><use href="#m07ba7ed919" x="319.32" y="158.76" style="fill: #0000ff; stroke: #0000ff"/><use href="#m07ba7ed919" x="323.64" y="167.4" style="fill: #0000ff; stroke: #0000ff"/><use href="#m07ba7ed919" x="328.68" y="160.92" style="fill: #0000ff; stroke: #0000ff"/><use href="#m07ba7ed919" x="333.72" y="132.84" style="fill: #0000ff; stroke: #0000ff"/><use href="#m07ba7ed919" x="338.04" y="167.4" style="fill: #0000ff; stroke: #0000ff"/><use href="#m07ba7ed919" x="343.08" y="175.32" style="fill: #0000ff; stroke: #0000ff"/><use href="#m07ba7ed919" x="348.12" y="158.76" style="fill: #0000ff; stroke: #0000ff"/><use href="#m07ba7ed919" x="352.44" y="163.08" style="fill: #0000ff; stroke: #0000ff"/><use href="#m07ba7ed919" x="357.48" y="163.08" style="fill: #0000ff; stroke: #0000ff"/><use href="#m07ba7ed919" x="361.8" y="154.44" style="fill: #0000ff; stroke: #0000ff"/><use href="#m07ba7ed919" x="366.84" y="177.48" style="fill: #0000ff; stroke: #0000ff"/><use href="#m07ba7ed919" x="371.88" y="183.96" style="fill: #0000ff; stroke: #0000ff"/><use href="#m07ba7ed919" x="376.2" y="183.96" style="fill: #0000ff; stroke: #0000ff"/><use href="#m07ba7ed919" x="381.24" y="186.12" style="fill: #0000ff; stroke: #0000ff"/><use href="#m07ba7ed919" x="386.28" y="181.8" style="fill: #0000ff; stroke: #0000ff"/><use href="#m07ba7ed919" x="390.6" y="188.28" style="fill: #0000ff; stroke: #0000ff"/><use href="#m07ba7ed919" x="395.64" y="183.96" style="fill: #0000ff; stroke: #0000ff"/><use href="#m07ba7ed919" x="400.68" y="96.84" style="fill: #0000ff; stroke: #0000ff"/><use href="#m07ba7ed919" x="405" y="179.64" style="fill: #0000ff; stroke: #0000ff"/><use href="#m07ba7ed919" x="410.04" y="183.96" style="fill: #0000ff; stroke: #0000ff"/><use href="#m07ba7ed919" x="415.08" y="192.6" style="fill: #0000ff; stroke: #0000ff"/><use href="#m07ba7ed919" x="419.4" y="192.6" style="fill: #0000ff; stroke: #0000ff"/><use href="#m07ba7ed919" x="424.44" y="190.44" style="fill: #0000ff; stroke: #0000ff"/><use href="#m07ba7ed919" x="429.48" y="192.6" style="fill: #0000ff; stroke: #0000ff"/><use href="#m07ba7ed919" x="433.8" y="194.76" style="fill: #0000ff; stroke: #0000ff"/><use href="#m07ba7ed919" x="438.84" y="190.44" style="fill: #0000ff; stroke: #0000ff"/><use href="#m07ba7ed919" x="443.88" y="186.12" style="fill: #0000ff; stroke: #0000ff"/><use href="#m07ba7ed919" x="448.2" y="186.12" style="fill: #0000ff; stroke: #0000ff"/><use href="#m07ba7ed919" x="453.24" y="188.28" style="fill: #0000ff; stroke: #0000ff"/><use href="#m07ba7ed919" x="458.28" y="186.12" style="fill: #0000ff; stroke: #0000ff"/><use href="#m07ba7ed919" x="462.6" y="192.6" style="fill: #0000ff; stroke: #0000ff"/><use href="#m07ba7ed919" x="467.64" y="190.44" style="fill: #0000ff; stroke: #0000ff"/><use href="#m07ba7ed919" x="472.68" y="188.28" style="fill: #0000ff; stroke: #0000ff"/><use href="#m07ba7ed919" x="477" y="179.64" style="fill: #0000ff; stroke: #0000ff"/><use href="#m07ba7ed919" x="482.04" y="181.8" style="fill: #0000ff; stroke: #0000ff"/><use href="#m07ba7ed919" x="486.36" y="186.12" style="fill: #0000ff; stroke: #0000ff"/><use href="#m07ba7ed919" x="491.4" y="186.12" style="fill: #0000ff; stroke: #0000ff"/><use href="#m07ba7ed919" x="496.44" y="181.8" style="fill: #0000ff; stroke: #0000ff"/><use href="#m07ba7ed919" x="500.76" y="190.44" style="fill: #0000ff; stroke: #0000ff"/><use href="#m07ba7ed919" x="505.8" y="192.6" style="fill: #0000ff; stroke: #0000ff"/><use href="#m07ba7ed919" x="510.84" y="192.6" style="fill: #0000ff; stroke: #0000ff"/><use href="#m07ba7ed919" x="515.16" y="188.28" style="fill: #0000ff; stroke: #0000ff"/><use href="#m07ba7ed919" x="520.2" y="188.28" style="fill: #0000ff; stroke: #0000ff"/><use href="#m07ba7ed919" x="525.24" y="190.44" style="fill: #0000ff; stroke: #0000ff"/><use href="#m07ba7ed919" x="529.56" y="183.96" style="fill: #0000ff; stroke: #0000ff"/><use href="#m07ba7ed919" x="534.6" y="194.76" style="fill: #0000ff; stroke: #0000ff"/><use href="#m07ba7ed919" x="539.64" y="196.92" style="fill: #0000ff; stroke: #0000ff"/><use href="#m07ba7ed919" x="543.96" y="192.6" style="fill: #0000ff; stroke: #0000ff"/><use href="#m07ba7ed919" x="549" y="190.44" style="fill: #0000ff; stroke: #0000ff"/><use href="#m07ba7ed919" x="554.04" y="207.72" style="fill: #0000ff; stroke: #0000ff"/><use href="#m07ba7ed919" x="558.36" y="196.92" style="fill: #0000ff; stroke: #0000ff"/><use href="#m07ba7ed919" x="563.4" y="190.44" style="fill: #0000ff; stroke: #0000ff"/><use href="#m07ba7ed919" x="568.44" y="186.12" style="fill: #0000ff; stroke: #0000ff"/><use href="#m07ba7ed919" x="572.76" y="175.32" style="fill: #0000ff; stroke: #0000ff"/><use href="#m07ba7ed919" x="577.8" y="158.76" style="fill: #0000ff; stroke: #0000ff"/><use href="#m07ba7ed919" x="582.84" y="167.4" style="fill: #0000ff; stroke: #0000ff"/><use href="#m07ba7ed919" x="587.16" y="169.56" style="fill: #0000ff; stroke: #0000ff"/><use href="#m07ba7ed919" x="592.2" y="173.16" style="fill: #0000ff; stroke: #0000ff"/><use href="#m07ba7ed919" x="597.24" y="177.48" style="fill: #0000ff; stroke: #0000ff"/><use href="#m07ba7ed919" x="601.56" y="175.32" style="fill: #0000ff; stroke: #0000ff"/><use href="#m07ba7ed919" x="606.6" y="169.56" style="fill: #0000ff; stroke: #0000ff"/><use href="#m07ba7ed919" x="610.92" y="173.16" style="fill: #0000ff; stroke: #0000ff"/><use href="#m07ba7ed919" x="615.96" y="173.16" style="fill: #0000ff; stroke: #0000ff"/><use href="#m07ba7ed919" x="621" y="181.8" style="fill: #0000ff; stroke: #0000ff"/><use href="#m07ba7ed919" x="625.32" y="186.12" style="fill: #0000ff; stroke: #0000ff"/><use href="#m07ba7ed919" x="630.36" y="186.12" style="fill: #0000ff; stroke: #0000ff"/><use href="#m07ba7ed919" x="635.4" y="190.44" style="fill: #0000ff; stroke: #0000ff"/><use href="#m07ba7ed919" x="639.72" y="192.6" style="fill: #0000ff; stroke: #0000ff"/><use href="#m07ba7ed919" x="644.76" y="192.6" style="fill: #0000ff; stroke: #0000ff"/><use href="#m07ba7ed919" x="649.8" y="190.44" style="fill: #0000ff; stroke: #0000ff"/><use href="#m07ba7ed919" x="654.12" y="190.44" style="fill: #0000ff; stroke: #0000ff"/><use href="#m07ba7ed919" x="659.16" y="188.28" style="fill: #0000ff; stroke: #0000ff"/><use href="#m07ba7ed919" x="664.2" y="190.44" style="fill: #0000ff; stroke: #0000ff"/><use href="#m07ba7ed919" x="668.52" y="188.28" style="fill: #0000ff; stroke: #0000ff"/><use href="#m07ba7ed919" x="673.56" y="194.76" style="fill: #0000ff; stroke: #0000ff"/><use href="#m07ba7ed919" x="678.6" y="192.6" style="fill: #0000ff; stroke: #0000ff"/><use href="#m07ba7ed919" x="682.92" y="194.76" style="fill: #0000ff; stroke: #0000ff"/><use href="#m07ba7ed919" x="687.96" y="186.12" style="fill: #0000ff; stroke: #0000ff"/><use href="#m07ba7ed919" x="693" y="192.6" style="fill: #0000ff; stroke: #0000ff"/><use href="#m07ba7ed919" x="697.32" y="192.6" style="fill: #0000ff; stroke: #0000ff"/><use href="#m07ba7ed919" x="702.36" y="186.12" style="fill: #0000ff; stroke: #0000ff"/><use href="#m07ba7ed919" x="707.4" y="188.28" style="fill: #0000ff; stroke: #0000ff"/><use href="#m07ba7ed919" x="711.72" y="183.96" style="fill: #0000ff; stroke: #0000ff"/><use href="#m07ba7ed919" x="716.76" y="192.6" style="fill: #0000ff; stroke: #0000ff"/><use href="#m07ba7ed919" x="721.8" y="192.6" style="fill: #0000ff; stroke: #0000ff"/><use href="#m07ba7ed919" x="726.12" y="177.48" style="fill: #0000ff; stroke: #0000ff"/><use href="#m07ba7ed919" x="731.16" y="186.12" style="fill: #0000ff; stroke: #0000ff"/><use href="#m07ba7ed919" x="735.48" y="179.64" style="fill: #0000ff; stroke: #0000ff"/><use href="#m07ba7ed919" x="740.52" y="186.12" style="fill: #0000ff; stroke: #0000ff"/><use href="#m07ba7ed919" x="745.56" y="196.92" style="fill: #0000ff; stroke: #0000ff"/><use href="#m07ba7ed919" x="749.88" y="196.92" style="fill: #0000ff; stroke: #0000ff"/><use href="#m07ba7ed919" x="754.92" y="192.6" style="fill: #0000ff; stroke: #0000ff"/><use href="#m07ba7ed919" x="759.96" y="192.6" style="fill: #0000ff; stroke: #0000ff"/><use href="#m07ba7ed919" x="764.28" y="196.92" style="fill: #0000ff; stroke: #0000ff"/><use href="#m07ba7ed919" x="769.32" y="199.08" style="fill: #0000ff; stroke: #0000ff"/><use href="#m07ba7ed919" x="774.36" y="186.12" style="fill: #0000ff; stroke: #0000ff"/><use href="#m07ba7ed919" x="778.68" y="192.6" style="fill: #0000ff; stroke: #0000ff"/><use href="#m07ba7ed919" x="783.72" y="192.6" style="fill: #0000ff; stroke: #0000ff"/><use href="#m07ba7ed919" x="788.76" y="188.28" style="fill: #0000ff; stroke: #0000ff"/><use href="#m07ba7ed919" x="793.08" y="186.12" style="fill: #0000ff; stroke: #0000ff"/><use href="#m07ba7ed919" x="798.12" y="190.44" style="fill: #0000ff; stroke: #0000ff"/><use href="#m07ba7ed919" x="803.16" y="171" style="fill: #0000ff; stroke: #0000ff"/><use href="#m07ba7ed919" x="807.48" y="179.64" style="fill: #0000ff; stroke: #0000ff"/><use href="#m07ba7ed919" x="812.52" y="173.16" style="fill: #0000ff; stroke: #0000ff"/><use href="#m07ba7ed919" x="817.56" y="156.6" style="fill: #0000ff; stroke: #0000ff"/><use href="#m07ba7ed919" x="821.88" y="169.56" style="fill: #0000ff; stroke: #0000ff"/><use href="#m07ba7ed919" x="826.92" y="175.32" style="fill: #0000ff; stroke: #0000ff"/><use href="#m07ba7ed919" x="831.96" y="177.48" style="fill: #0000ff; stroke: #0000ff"/><use href="#m07ba7ed919" x="836.28" y="173.16" style="fill: #0000ff; stroke: #0000ff"/><use href="#m07ba7ed919" x="841.32" y="171" style="fill: #0000ff; stroke: #0000ff"/><use href="#m07ba7ed919" x="846.36" y="177.48" style="fill: #0000ff; stroke: #0000ff"/><use href="#m07ba7ed919" x="850.68" y="177.48" style="fill: #0000ff; stroke: #0000ff"/><use href="#m07ba7ed919" x="855.72" y="175.32" style="fill: #0000ff; stroke: #0000ff"/><use href="#m07ba7ed919" x="860.76" y="183.96" style="fill: #0000ff; stroke: #0000ff"/><use href="#m07ba7ed919" x="865.08" y="177.48" style="fill: #0000ff; stroke: #0000ff"/><use href="#m07ba7ed919" x="870.12" y="181.8" style="fill: #0000ff; stroke: #0000ff"/><use href="#m07ba7ed919" x="874.44" y="175.32" style="fill: #0000ff; stroke: #0000ff"/><use href="#m07ba7ed919" x="879.48" y="183.96" style="fill: #0000ff; stroke: #0000ff"/><use href="#m07ba7ed919" x="884.52" y="186.12" style="fill: #0000ff; stroke: #0000ff"/><use href="#m07ba7ed919" x="888.84" y="179.64" style="fill: #0000ff; stroke: #0000ff"/><use href="#m07ba7ed919" x="893.88" y="183.96" style="fill: #0000ff; stroke: #0000ff"/><use href="#m07ba7ed919" x="898.92" y="186.12" style="fill: #0000ff; stroke: #0000ff"/><use href="#m07ba7ed919" x="903.24" y="186.12" style="fill: #0000ff; stroke: #0000ff"/><use href="#m07ba7ed919" x="908.28" y="181.8" style="fill: #0000ff; stroke: #0000ff"/><use href="#m07ba7ed919" x="913.32" y="186.12" style="fill: #0000ff; stroke: #0000ff"/><use href="#m07ba7ed919" x="917.64" y="186.12" style="fill: #0000ff; stroke: #0000ff"/><use href="#m07ba7ed919" x="922.68" y="188.28" style="fill: #0000ff; stroke: #0000ff"/><use href="#m07ba7ed919" x="927.72" y="183.96" style="fill: #0000ff; stroke: #0000ff"/><use href="#m07ba7ed919" x="932.04" y="179.64" style="fill: #0000ff; stroke: #0000ff"/><use href="#m07ba7ed919" x="937.08" y="179.64" style="fill: #0000ff; stroke: #0000ff"/><use href="#m07ba7ed919" x="942.12" y="179.64" style="fill: #0000ff; stroke: #0000ff"/><use href="#m07ba7ed919" x="946.44" y="179.64" style="fill: #0000ff; stroke: #0000ff"/><use href="#m07ba7ed919" x="951.48" y="181.8" style="fill: #0000ff; stroke: #0000ff"/><use href="#m07ba7ed919" x="956.52" y="175.32" style="fill: #0000ff; stroke: #0000ff"/><use href="#m07ba7ed919" x="960.84" y="179.64" style="fill: #0000ff; stroke: #0000ff"/><use href="#m07ba7ed919" x="965.88" y="181.8" style="fill: #0000ff; stroke: #0000ff"/><use href="#m07ba7ed919" x="970.92" y="183.96" style="fill: #0000ff; stroke: #0000ff"/><use href="#m07ba7ed919" x="975.24" y="173.16" style="fill: #0000ff; stroke: #0000ff"/><use href="#m07ba7ed919" x="980.28" y="183.96" style="fill: #0000ff; stroke: #0000ff"/><use href="#m07ba7ed919" x="985.32" y="169.56" style="fill: #0000ff; stroke: #0000ff"/><use href="#m07ba7ed919" x="989.64" y="179.64" style="fill: #0000ff; stroke: #0000ff"/><use href="#m07ba7ed919" x="994.68" y="175.32" style="fill: #0000ff; stroke: #0000ff"/><use href="#m07ba7ed919" x="999" y="163.08" style="fill: #0000ff; stroke: #0000ff"/><use href="#m07ba7ed919" x="1004.04" y="156.6" style="fill: #0000ff; stroke: #0000ff"/><use href="#m07ba7ed919" x="1009.08" y="158.76" style="fill: #0000ff; stroke: #0000ff"/><use href="#m07ba7ed919" x="1013.4" y="165.24" style="fill: #0000ff; stroke: #0000ff"/><use href="#m07ba7ed919" x="1018.44" y="165.24" style="fill: #0000ff; stroke: #0000ff"/><use href="#m07ba7ed919" x="1023.48" y="177.48" style="fill: #0000ff; stroke: #0000ff"/><use href="#m07ba7ed919" x="1027.8" y="177.48" style="fill: #0000ff; stroke: #0000ff"/><use href="#m07ba7ed919" x="1032.84" y="175.32" style="fill: #0000ff; stroke: #0000ff"/><use href="#m07ba7ed919" x="1037.88" y="188.28" style="fill: #0000ff; stroke: #0000ff"/><use href="#m07ba7ed919" x="1042.2" y="183.96" style="fill: #0000ff; stroke: #0000ff"/><use href="#m07ba7ed919" x="1047.24" y="177.48" style="fill: #0000ff; stroke: #0000ff"/><use href="#m07ba7ed919" x="1052.28" y="179.64" style="fill: #0000ff; stroke: #0000ff"/><use href="#m07ba7ed919" x="1056.6" y="171" style="fill: #0000ff; stroke: #0000ff"/><use href="#m07ba7ed919" x="1061.64" y="154.44" style="fill: #0000ff; stroke: #0000ff"/><use href="#m07ba7ed919" x="1066.68" y="167.4" style="fill: #0000ff; stroke: #0000ff"/><use href="#m07ba7ed919" x="1071" y="175.32" style="fill: #0000ff; stroke: #0000ff"/><use href="#m07ba7ed919" x="1076.04" y="152.28" style="fill: #0000ff; stroke: #0000ff"/><use href="#m07ba7ed919" x="1081.08" y="154.44" style="fill: #0000ff; stroke: #0000ff"/><use href="#m07ba7ed919" x="1085.4" y="152.28" style="fill: #0000ff; stroke: #0000ff"/><use href="#m07ba7ed919" x="1090.44" y="139.32" style="fill: #0000ff; stroke: #0000ff"/><use href="#m07ba7ed919" x="1095.48" y="147.96" style="fill: #0000ff; stroke: #0000ff"/><use href="#m07ba7ed919" x="1099.8" y="143.64" style="fill: #0000ff; stroke: #0000ff"/><use href="#m07ba7ed919" x="1104.84" y="137.16" style="fill: #0000ff; stroke: #0000ff"/><use href="#m07ba7ed919" x="1109.88" y="150.12" style="fill: #0000ff; stroke: #0000ff"/><use href="#m07ba7ed919" x="1114.2" y="143.64" style="fill: #0000ff; stroke: #0000ff"/><use href="#m07ba7ed919" x="1119.24" y="150.12" style="fill: #0000ff; stroke: #0000ff"/><use href="#m07ba7ed919" x="1123.56" y="158.76" style="fill: #0000ff; stroke: #0000ff"/><use href="#m07ba7ed919" x="1128.6" y="147.96" style="fill: #0000ff; stroke: #0000ff"/><use href="#m07ba7ed919" x="1133.64" y="147.96" style="fill: #0000ff; stroke: #0000ff"/><use href="#m07ba7ed919" x="1137.96" y="145.8" style="fill: #0000ff; stroke: #0000ff"/><use href="#m07ba7ed919" x="1143" y="137.16" style="fill: #0000ff; stroke: #0000ff"/><use href="#m07ba7ed919" x="1148.04" y="111.96" style="fill: #0000ff; stroke: #0000ff"/><use href="#m07ba7ed919" x="1152.36" y="70.92" style="fill: #0000ff; stroke: #0000ff"/><use href="#m07ba7ed919" x="1157.4" y="77.4" style="fill: #0000ff; stroke: #0000ff"/><use href="#m07ba7ed919" x="1162.44" y="67.32" style="fill: #0000ff; stroke: #0000ff"/><use href="#m07ba7ed919" x="1166.76" y="92.52" style="fill: #0000ff; stroke: #0000ff"/><use href="#m07ba7ed919" x="1171.8" y="96.84" style="fill: #0000ff; stroke: #0000ff"/><use href="#m07ba7ed919" x="1176.84" y="103.32" style="fill: #0000ff; stroke: #0000ff"/><use href="#m07ba7ed919" x="1181.16" y="111.96" style="fill: #0000ff; stroke: #0000ff"/><use href="#m07ba7ed919" x="1186.2" y="111.96" style="fill: #0000ff; stroke: #0000ff"/><use href="#m07ba7ed919" x="1191.24" y="126.36" style="fill: #0000ff; stroke: #0000ff"/><use href="#m07ba7ed919" x="1195.56" y="132.84" style="fill: #0000ff; stroke: #0000ff"/><use href="#m07ba7ed919" x="1200.6" y="126.36" style="fill: #0000ff; stroke: #0000ff"/><use href="#m07ba7ed919" x="1205.64" y="107.64" style="fill: #0000ff; stroke: #0000ff"/><use href="#m07ba7ed919" x="1209.96" y="109.8" style="fill: #0000ff; stroke: #0000ff"/><use href="#m07ba7ed919" x="1215" y="111.96" style="fill: #0000ff; stroke: #0000ff"/><use href="#m07ba7ed919" x="1220.04" y="135" style="fill: #0000ff; stroke: #0000ff"/><use href="#m07ba7ed919" x="1224.36" y="132.84" style="fill: #0000ff; stroke: #0000ff"/><use href="#m07ba7ed919" x="1229.4" y="128.52" style="fill: #0000ff; stroke: #0000ff"/><use href="#m07ba7ed919" x="1234.44" y="147.96" style="fill: #0000ff; stroke: #0000ff"/><use href="#m07ba7ed919" x="1238.76" y="150.12" style="fill: #0000ff; stroke: #0000ff"/><use href="#m07ba7ed919" x="1243.8" y="150.12" style="fill: #0000ff; stroke: #0000ff"/><use href="#m07ba7ed919" x="1248.12" y="147.96" style="fill: #0000ff; stroke: #0000ff"/><use href="#m07ba7ed919" x="1253.16" y="150.12" style="fill: #0000ff; stroke: #0000ff"/><use href="#m07ba7ed919" x="1258.2" y="145.8" style="fill: #0000ff; stroke: #0000ff"/><use href="#m07ba7ed919" x="1262.52" y="150.12" style="fill: #0000ff; stroke: #0000ff"/><use href="#m07ba7ed919" x="1267.56" y="147.96" style="fill: #0000ff; stroke: #0000ff"/><use href="#m07ba7ed919" x="1272.6" y="152.28" style="fill: #0000ff; stroke: #0000ff"/><use href="#m07ba7ed919" x="1276.92" y="158.76" style="fill: #0000ff; stroke: #0000ff"/><use href="#m07ba7ed919" x="1281.96" y="179.64" style="fill: #0000ff; stroke: #0000ff"/><use href="#m07ba7ed919" x="1287" y="169.56" style="fill: #0000ff; stroke: #0000ff"/><use href="#m07ba7ed919" x="1291.32" y="154.44" style="fill: #0000ff; stroke: #0000ff"/><use href="#m07ba7ed919" x="1296.36" y="158.76" style="fill: #0000ff; stroke: #0000ff"/><use href="#m07ba7ed919" x="1301.4" y="147.96" style="fill: #0000ff; stroke: #0000ff"/><use href="#m07ba7ed919" x="1305.72" y="152.28" style="fill: #0000ff; stroke: #0000ff"/><use href="#m07ba7ed919" x="1310.76" y="156.6" style="fill: #0000ff; stroke: #0000ff"/><use href="#m07ba7ed919" x="1315.8" y="135" style="fill: #0000ff; stroke: #0000ff"/><use href="#m07ba7ed919" x="1320.12" y="152.28" style="fill: #0000ff; stroke: #0000ff"/><use href="#m07ba7ed919" x="1325.16" y="160.92" style="fill: #0000ff; stroke: #0000ff"/><use href="#m07ba7ed919" x="1330.2" y="145.8" style="fill: #0000ff; stroke: #0000ff"/><use href="#m07ba7ed919" x="1334.52" y="147.96" style="fill: #0000ff; stroke: #0000ff"/><use href="#m07ba7ed919" x="1339.56" y="150.12" style="fill: #0000ff; stroke: #0000ff"/><use href="#m07ba7ed919" x="1344.6" y="152.28" style="fill: #0000ff; stroke: #0000ff"/><use href="#m07ba7ed919" x="1348.92" y="143.64" style="fill: #0000ff; stroke: #0000ff"/><use href="#m07ba7ed919" x="1353.96" y="154.44" style="fill: #0000ff; stroke: #0000ff"/><use href="#m07ba7ed919" x="1359" y="150.12" style="fill: #0000ff; stroke: #0000ff"/><use href="#m07ba7ed919" x="1363.32" y="160.92" style="fill: #0000ff; stroke: #0000ff"/></g></g><g id="patch_3"><path d="M 50.76 279.72 L 50.76 24.12 " style="fill: none; stroke: #000000; stroke-width: 0.8; stroke-linejoin: miter; stroke-linecap: square"/></g><g id="patch_4"><path d="M 1425.96 279.72 L 1425.96 24.12 " style="fill: none; stroke: #000000; stroke-width: 0.8; stroke-linejoin: miter; stroke-linecap: square"/></g><g id="patch_5"><path d="M 50.76 279.72 L 1425.96 279.72 " style="fill: none; stroke: #000000; stroke-width: 0.8; stroke-linejoin: miter; stroke-linecap: square"/></g><g id="patch_6"><path d="M 50.76 24.12 L 1425.96 24.12 " style="fill: none; stroke: #000000; stroke-width: 0.8; stroke-linejoin: miter; stroke-linecap: square"/></g><g id="patch_7"><path d="M 1152.532611 54.610191 Q 1152.532611 56.254785 1152.532611 57.899379 L 1158.282611 57.899379 Q 1155.282611 63.900935 1152.282611 69.90249 Q 1149.282611 63.900935 1146.282611 57.899379 L 1152.032611 57.899379 Q 1152.032611 56.254785 1152.032611 54.610191 L 1152.532611 54.610191 z " style="fill: #8b0000; stroke: #000000; stroke-linecap: round"/></g><g id="text_76"><!-- 1 --><g style="fill: #8b0000" transform="translate(1149.8214 49.7438) scale(0.1 -0.1)"><use href="#DejaVuSans-31"/></g></g><g id="patch_8"><path d="M 1157.32345 61.001138 Q 1157.32345 62.645732 1157.32345 64.290326 L 1163.07345 64.290326 Q 1160.07345 70.291881 1157.07345 76.293436 Q 1154.07345 70.291881 1151.07345 64.290326 L 1156.82345 64.290326 Q 1156.82345 62.645732 1156.82345 61.001138 L 1157.32345 61.001138 z " style="fill: #8b0000; stroke: #000000; stroke-linecap: round"/></g><g id="text_77"><!-- 2 --><g style="fill: #8b0000" transform="translate(1154.0722 56.2247) scale(0.1 -0.1)"><use href="#DejaVuSans-32"/></g></g><g id="patch_9"><path d="M 1162.114289 50.34956 Q 1162.114289 51.994154 1162.114289 53.638748 L 1167.864289 53.638748 Q 1164.864289 59.640304 1161.864289 65.641859 Q 1158.864289 59.640304 1155.864289 53.638748 L 1161.614289 53.638748 Q 1161.614289 51.994154 1161.614289 50.34956 L 1162.114289 50.34956 z " style="fill: #8b0000; stroke: #000000; stroke-linecap: round"/></g><g id="text_78"><!-- 3 --><g style="fill: #8b0000" transform="translate(1158.503 45.3032) scale(0.1 -0.1)"><use href="#DejaVuSans-33"/></g></g><g id="text_79"><!-- VPN Search Trend for Indonesia --><g transform="translate(613.1409 17.91) scale(0.14 -0.14)"><defs><path id="DejaVuSans-Bold-56" d="M 31 4666 L 1241 4666 L 2478 1222 L 3713 4666 L 4922 4666 L 3194 0 L 1759 0 L 31 4666 z " transform="scale(0.015625)"/><path id="DejaVuSans-Bold-50" d="M 588 4666 L 2584 4666 Q 3475 4666 3951 4270 Q 4428 3875 4428 3144 Q 4428 2409 3951 2014 Q 3475 1619 2584 1619 L 1791 1619 L 1791 0 L 588 0 L 588 4666 z M 1791 3794 L 1791 2491 L 2456 2491 Q 2806 2491 2997 2661 Q 3188 2831 3188 3144 Q 3188 3456 2997 3625 Q 2806 3794 2456 3794 L 1791 3794 z " transform="scale(0.015625)"/><path id="DejaVuSans-Bold-4e" d="M 588 4666 L 1931 4666 L 3628 1466 L 3628 4666 L 4769 4666 L 4769 0 L 3425 0 L 1728 3200 L 1728 0 L 588 0 L 588 4666 z " transform="scale(0.015625)"/><path id="DejaVuSans-Bold-20" transform="scale(0.015625)"/><path id="DejaVuSans-Bold-53" d="M 3834 4519 L 3834 3531 Q 3450 3703 3084 3790 Q 2719 3878 2394 3878 Q 1963 3878 1756 3759 Q 1550 3641 1550 3391 Q 1550 3203 1689 3098 Q 1828 2994 2194 2919 L 2706 2816 Q 3484 2659 3812 2340 Q 4141 2022 4141 1434 Q 4141 663 3683 286 Q 3225 -91 2284 -91 Q 1841 -91 1394 -6 Q 947 78 500 244 L 500 1259 Q 947 1022 1364 901 Q 1781 781 2169 781 Q 2563 781 2772 912 Q 2981 1044 2981 1288 Q 2981 1506 2839 1625 Q 2697 1744 2272 1838 L 1806 1941 Q 1106 2091 782 2419 Q 459 2747 459 3303 Q 459 4000 909 4375 Q 1359 4750 2203 4750 Q 2588 4750 2994 4692 Q 3400 4634 3834 4519 z " transform="scale(0.015625)"/><path id="DejaVuSans-Bold-65" d="M 4031 1759 L 4031 1441 L 1416 1441 Q 1456 1047 1700 850 Q 1944 653 2381 653 Q 2734 653 3104 758 Q 3475 863 3866 1075 L 3866 213 Q 3469 63 3072 -14 Q 2675 -91 2278 -91 Q 1328 -91 801 392 Q 275 875 275 1747 Q 275 2603 792 3093 Q 1309 3584 2216 3584 Q 3041 3584 3536 3087 Q 4031 2591 4031 1759 z M 2881 2131 Q 2881 2450 2695 2645 Q 2509 2841 2209 2841 Q 1884 2841 1681 2658 Q 1478 2475 1428 2131 L 2881 2131 z " transform="scale(0.015625)"/><path id="DejaVuSans-Bold-61" d="M 2106 1575 Q 1756 1575 1579 1456 Q 1403 1338 1403 1106 Q 1403 894 1545 773 Q 1688 653 1941 653 Q 2256 653 2472 879 Q 2688 1106 2688 1447 L 2688 1575 L 2106 1575 z M 3816 1997 L 3816 0 L 2688 0 L 2688 519 Q 2463 200 2181 54 Q 1900 -91 1497 -91 Q 953 -91 614 226 Q 275 544 275 1050 Q 275 1666 698 1953 Q 1122 2241 2028 2241 L 2688 2241 L 2688 2328 Q 2688 2594 2478 2717 Q 2269 2841 1825 2841 Q 1466 2841 1156 2769 Q 847 2697 581 2553 L 581 3406 Q 941 3494 1303 3539 Q 1666 3584 2028 3584 Q 2975 3584 3395 3211 Q 3816 2838 3816 1997 z " transform="scale(0.015625)"/><path id="DejaVuSans-Bold-72" d="M 3138 2547 Q 2991 2616 2845 2648 Q 2700 2681 2553 2681 Q 2122 2681 1889 2404 Q 1656 2128 1656 1613 L 1656 0 L 538 0 L 538 3500 L 1656 3500 L 1656 2925 Q 1872 3269 2151 3426 Q 2431 3584 2822 3584 Q 2878 3584 2943 3579 Q 3009 3575 3134 3559 L 3138 2547 z " transform="scale(0.015625)"/><path id="DejaVuSans-Bold-63" d="M 3366 3391 L 3366 2478 Q 3138 2634 2908 2709 Q 2678 2784 2431 2784 Q 1963 2784 1702 2511 Q 1441 2238 1441 1747 Q 1441 1256 1702 982 Q 1963 709 2431 709 Q 2694 709 2930 787 Q 3166 866 3366 1019 L 3366 103 Q 3103 6 2833 -42 Q 2563 -91 2291 -91 Q 1344 -91 809 395 Q 275 881 275 1747 Q 275 2613 809 3098 Q 1344 3584 2291 3584 Q 2566 3584 2833 3536 Q 3100 3488 3366 3391 z " transform="scale(0.015625)"/><path id="DejaVuSans-Bold-68" d="M 4056 2131 L 4056 0 L 2931 0 L 2931 347 L 2931 1625 Q 2931 2084 2911 2256 Q 2891 2428 2841 2509 Q 2775 2619 2662 2680 Q 2550 2741 2406 2741 Q 2056 2741 1856 2470 Q 1656 2200 1656 1722 L 1656 0 L 538 0 L 538 4863 L 1656 4863 L 1656 2988 Q 1909 3294 2193 3439 Q 2478 3584 2822 3584 Q 3428 3584 3742 3212 Q 4056 2841 4056 2131 z " transform="scale(0.015625)"/><path id="DejaVuSans-Bold-54" d="M 31 4666 L 4331 4666 L 4331 3756 L 2784 3756 L 2784 0 L 1581 0 L 1581 3756 L 31 3756 L 31 4666 z " transform="scale(0.015625)"/><path id="DejaVuSans-Bold-6e" d="M 4056 2131 L 4056 0 L 2931 0 L 2931 347 L 2931 1631 Q 2931 2084 2911 2256 Q 2891 2428 2841 2509 Q 2775 2619 2662 2680 Q 2550 2741 2406 2741 Q 2056 2741 1856 2470 Q 1656 2200 1656 1722 L 1656 0 L 538 0 L 538 3500 L 1656 3500 L 1656 2988 Q 1909 3294 2193 3439 Q 2478 3584 2822 3584 Q 3428 3584 3742 3212 Q 4056 2841 4056 2131 z " transform="scale(0.015625)"/><path id="DejaVuSans-Bold-64" d="M 2919 2988 L 2919 4863 L 4044 4863 L 4044 0 L 2919 0 L 2919 506 Q 2688 197 2409 53 Q 2131 -91 1766 -91 Q 1119 -91 703 423 Q 288 938 288 1747 Q 288 2556 703 3070 Q 1119 3584 1766 3584 Q 2128 3584 2408 3439 Q 2688 3294 2919 2988 z M 2181 722 Q 2541 722 2730 984 Q 2919 1247 2919 1747 Q 2919 2247 2730 2509 Q 2541 2772 2181 2772 Q 1825 2772 1636 2509 Q 1447 2247 1447 1747 Q 1447 1247 1636 984 Q 1825 722 2181 722 z " transform="scale(0.015625)"/><path id="DejaVuSans-Bold-66" d="M 2841 4863 L 2841 4128 L 2222 4128 Q 1984 4128 1890 4042 Q 1797 3956 1797 3744 L 1797 3500 L 2753 3500 L 2753 2700 L 1797 2700 L 1797 0 L 678 0 L 678 2700 L 122 2700 L 122 3500 L 678 3500 L 678 3744 Q 678 4316 997 4589 Q 1316 4863 1984 4863 L 2841 4863 z " transform="scale(0.015625)"/><path id="DejaVuSans-Bold-6f" d="M 2203 2784 Q 1831 2784 1636 2517 Q 1441 2250 1441 1747 Q 1441 1244 1636 976 Q 1831 709 2203 709 Q 2569 709 2762 976 Q 2956 1244 2956 1747 Q 2956 2250 2762 2517 Q 2569 2784 2203 2784 z M 2203 3584 Q 3106 3584 3614 3096 Q 4122 2609 4122 1747 Q 4122 884 3614 396 Q 3106 -91 2203 -91 Q 1297 -91 786 396 Q 275 884 275 1747 Q 275 2609 786 3096 Q 1297 3584 2203 3584 z " transform="scale(0.015625)"/><path id="DejaVuSans-Bold-49" d="M 588 4666 L 1791 4666 L 1791 0 L 588 0 L 588 4666 z " transform="scale(0.015625)"/><path id="DejaVuSans-Bold-73" d="M 3272 3391 L 3272 2541 Q 2913 2691 2578 2766 Q 2244 2841 1947 2841 Q 1628 2841 1473 2761 Q 1319 2681 1319 2516 Q 1319 2381 1436 2309 Q 1553 2238 1856 2203 L 2053 2175 Q 2913 2066 3209 1816 Q 3506 1566 3506 1031 Q 3506 472 3093 190 Q 2681 -91 1863 -91 Q 1516 -91 1145 -36 Q 775 19 384 128 L 384 978 Q 719 816 1070 734 Q 1422 653 1784 653 Q 2113 653 2278 743 Q 2444 834 2444 1013 Q 2444 1163 2330 1236 Q 2216 1309 1875 1350 L 1678 1375 Q 931 1469 631 1722 Q 331 1975 331 2491 Q 331 3047 712 3315 Q 1094 3584 1881 3584 Q 2191 3584 2531 3537 Q 2872 3491 3272 3391 z " transform="scale(0.015625)"/><path id="DejaVuSans-Bold-69" d="M 538 3500 L 1656 3500 L 1656 0 L 538 0 L 538 3500 z M 538 4863 L 1656 4863 L 1656 3950 L 538 3950 L 538 4863 z " transform="scale(0.015625)"/></defs><use href="#DejaVuSans-Bold-56"/><use href="#DejaVuSans-Bold-50" transform="translate(77.392578 0)"/><use href="#DejaVuSans-Bold-4e" transform="translate(150.683594 0)"/><use href="#DejaVuSans-Bold-20" transform="translate(234.375 0)"/><use href="#DejaVuSans-Bold-53" transform="translate(269.189453 0)"/><use href="#DejaVuSans-Bold-65" transform="translate(341.210938 0)"/><use href="#DejaVuSans-Bold-61" transform="translate(409.033203 0)"/><use href="#DejaVuSans-Bold-72" transform="translate(476.513672 0)"/><use href="#DejaVuSans-Bold-63" transform="translate(525.830078 0)"/><use href="#DejaVuSans-Bold-68" transform="translate(585.107422 0)"/><use href="#DejaVuSans-Bold-20" transform="translate(656.298828 0)"/><use href="#DejaVuSans-Bold-54" transform="translate(691.113281 0)"/><use href="#DejaVuSans-Bold-72" transform="translate(748.326172 0)"/><use href="#DejaVuSans-Bold-65" transform="translate(797.642578 0)"/><use href="#DejaVuSans-Bold-6e" transform="translate(865.464844 0)"/><use href="#DejaVuSans-Bold-64" transform="translate(936.65625 0)"/><use href="#DejaVuSans-Bold-20" transform="translate(1008.238281 0)"/><use href="#DejaVuSans-Bold-66" transform="translate(1043.052734 0)"/><use href="#DejaVuSans-Bold-6f" transform="translate(1086.558594 0)"/><use href="#DejaVuSans-Bold-72" transform="translate(1155.259766 0)"/><use href="#DejaVuSans-Bold-20" transform="translate(1204.576172 0)"/><use href="#DejaVuSans-Bold-49" transform="translate(1239.390625 0)"/><use href="#DejaVuSans-Bold-6e" transform="translate(1276.597656 0)"/><use href="#DejaVuSans-Bold-64" transform="translate(1347.789062 0)"/><use href="#DejaVuSans-Bold-6f" transform="translate(1419.371094 0)"/><use href="#DejaVuSans-Bold-6e" transform="translate(1488.072266 0)"/><use href="#DejaVuSans-Bold-65" transform="translate(1559.263672 0)"/><use href="#DejaVuSans-Bold-73" transform="translate(1627.085938 0)"/><use href="#DejaVuSans-Bold-69" transform="translate(1686.607422 0)"/><use href="#DejaVuSans-Bold-61" transform="translate(1720.884766 0)"/></g></g><g id="legend_1"><g id="patch_10"><path d="M 57.15 46.678125 L 215.00625 46.678125 Q 217.00625 46.678125 217.00625 44.678125 L 217.00625 31 Q 217.00625 29 215.00625 29 L 57.15 29 Q 55.15 29 55.15 31 L 55.15 44.678125 Q 55.15 46.678125 57.15 46.678125 z " style="fill: #ffffff; opacity: 0.8; stroke: #cccccc; stroke-linejoin: miter"/></g><g id="line2d_148"><path d="M 59.04 37.44 L 69.12 37.44 L 79.2 37.44 " style="fill: none; stroke: #0000ff; stroke-width: 1.5; stroke-linecap: square"/><g><use href="#m07ba7ed919" x="69.48" y="37.8" style="fill: #0000ff; stroke: #0000ff"/></g></g><g id="text_80"><!-- Indonesia VPN popularity --><g transform="translate(86.97 40.9584) scale(0.1 -0.1)"><defs><path id="DejaVuSans-49" d="M 628 4666 L 1259 4666 L 1259 0 L 628 0 L 628 4666 z " transform="scale(0.015625)"/><path id="DejaVuSans-73" d="M 2834 3397 L 2834 2853 Q 2591 2978 2328 3040 Q 2066 3103 1784 3103 Q 1356 3103 1142 2972 Q 928 2841 928 2578 Q 928 2378 1081 2264 Q 1234 2150 1697 2047 L 1894 2003 Q 2506 1872 2764 1633 Q 3022 1394 3022 966 Q 3022 478 2636 193 Q 2250 -91 1575 -91 Q 1294 -91 989 -36 Q 684 19 347 128 L 347 722 Q 666 556 975 473 Q 1284 391 1588 391 Q 1994 391 2212 530 Q 2431 669 2431 922 Q 2431 1156 2273 1281 Q 2116 1406 1581 1522 L 1381 1569 Q 847 1681 609 1914 Q 372 2147 372 2553 Q 372 3047 722 3315 Q 1072 3584 1716 3584 Q 2034 3584 2315 3537 Q 2597 3491 2834 3397 z " transform="scale(0.015625)"/><path id="DejaVuSans-69" d="M 603 3500 L 1178 3500 L 1178 0 L 603 0 L 603 3500 z M 603 4863 L 1178 4863 L 1178 4134 L 603 4134 L 603 4863 z " transform="scale(0.015625)"/><path id="DejaVuSans-50" d="M 1259 4147 L 1259 2394 L 2053 2394 Q 2494 2394 2734 2622 Q 2975 2850 2975 3272 Q 2975 3691 2734 3919 Q 2494 4147 2053 4147 L 1259 4147 z M 628 4666 L 2053 4666 Q 2838 4666 3239 4311 Q 3641 3956 3641 3272 Q 3641 2581 3239 2228 Q 2838 1875 2053 1875 L 1259 1875 L 1259 0 L 628 0 L 628 4666 z " transform="scale(0.015625)"/></defs><use href="#DejaVuSans-49"/><use href="#DejaVuSans-6e" transform="translate(29.492188 0)"/><use href="#DejaVuSans-64" transform="translate(92.871094 0)"/><use href="#DejaVuSans-6f" transform="translate(156.347656 0)"/><use href="#DejaVuSans-6e" transform="translate(217.529297 0)"/><use href="#DejaVuSans-65" transform="translate(280.908203 0)"/><use href="#DejaVuSans-73" transform="translate(342.431641 0)"/><use href="#DejaVuSans-69" transform="translate(394.53125 0)"/><use href="#DejaVuSans-61" transform="translate(422.314453 0)"/><use href="#DejaVuSans-20" transform="translate(483.59375 0)"/><use href="#DejaVuSans-56" transform="translate(515.380859 0)"/><use href="#DejaVuSans-50" transform="translate(583.789062 0)"/><use href="#DejaVuSans-4e" transform="translate(644.091797 0)"/><use href="#DejaVuSans-20" transform="translate(718.896484 0)"/><use href="#DejaVuSans-70" transform="translate(750.683594 0)"/><use href="#DejaVuSans-6f" transform="translate(814.160156 0)"/><use href="#DejaVuSans-70" transform="translate(875.341797 0)"/><use href="#DejaVuSans-75" transform="translate(938.818359 0)"/><use href="#DejaVuSans-6c" transform="translate(1002.197266 0)"/><use href="#DejaVuSans-61" transform="translate(1029.980469 0)"/><use href="#DejaVuSans-72" transform="translate(1091.259766 0)"/><use href="#DejaVuSans-69" transform="translate(1132.373047 0)"/><use href="#DejaVuSans-74" transform="translate(1160.15625 0)"/><use href="#DejaVuSans-79" transform="translate(1199.365234 0)"/></g></g></g></g></g><defs><clipPath id="p687c3cbe19"><rect x="50.15" y="24" width="1375.45" height="255.637857"/></clipPath></defs></svg> 
</body></html>
